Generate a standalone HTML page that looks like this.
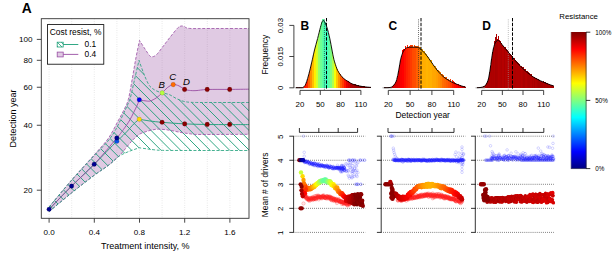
<!DOCTYPE html>
<html><head><meta charset="utf-8"><title>Figure</title>
<style>
html,body{margin:0;padding:0;background:#fff;}
body{width:612px;height:255px;overflow:hidden;font-family:"Liberation Sans",sans-serif;}
svg{display:block;}
svg text{font-family:"Liberation Sans",sans-serif;}
.bl circle{r:1.25px;fill:none;stroke:#2020ff;stroke-width:.45px;stroke-opacity:.6}
.bl2 circle{r:1.3px;fill:none;stroke:#2020ff;stroke-width:.45px;stroke-opacity:.4}
.rl circle{r:1.7px;fill:#ff3030;fill-opacity:.12;stroke:#ff2020;stroke-width:.5px;stroke-opacity:.45}
</style></head><body>
<svg width="612" height="255" viewBox="0 0 612 255">
<rect x="0" y="0" width="612" height="255" fill="#fff"/>
<clipPath id="clipA"><rect x="41.3" y="18.7" width="207.7" height="199.60000000000002"/></clipPath>
<line x1="49.10" y1="18.7" x2="49.10" y2="218.3" stroke="#d3d3d3" stroke-width="0.7" stroke-dasharray="0.7,1.6"/>
<line x1="71.70" y1="18.7" x2="71.70" y2="218.3" stroke="#d3d3d3" stroke-width="0.7" stroke-dasharray="0.7,1.6"/>
<line x1="94.30" y1="18.7" x2="94.30" y2="218.3" stroke="#d3d3d3" stroke-width="0.7" stroke-dasharray="0.7,1.6"/>
<line x1="116.90" y1="18.7" x2="116.90" y2="218.3" stroke="#d3d3d3" stroke-width="0.7" stroke-dasharray="0.7,1.6"/>
<line x1="139.50" y1="18.7" x2="139.50" y2="218.3" stroke="#d3d3d3" stroke-width="0.7" stroke-dasharray="0.7,1.6"/>
<line x1="162.10" y1="18.7" x2="162.10" y2="218.3" stroke="#d3d3d3" stroke-width="0.7" stroke-dasharray="0.7,1.6"/>
<line x1="184.70" y1="18.7" x2="184.70" y2="218.3" stroke="#d3d3d3" stroke-width="0.7" stroke-dasharray="0.7,1.6"/>
<line x1="207.30" y1="18.7" x2="207.30" y2="218.3" stroke="#d3d3d3" stroke-width="0.7" stroke-dasharray="0.7,1.6"/>
<line x1="229.90" y1="18.7" x2="229.90" y2="218.3" stroke="#d3d3d3" stroke-width="0.7" stroke-dasharray="0.7,1.6"/>
<g clip-path="url(#clipA)">
<path d="M49.10,207.00 C52.85,202.50 64.08,188.68 71.60,180.00 C79.12,171.32 88.28,161.57 94.20,154.90 C100.12,148.23 103.92,144.15 107.10,140.00 C110.28,135.85 111.57,133.00 113.30,130.00 C115.03,127.00 116.05,124.72 117.50,122.00 C118.95,119.28 120.62,116.37 122.00,113.70 C123.38,111.03 124.68,108.62 125.80,106.00 C126.92,103.38 127.60,102.67 128.70,98.00 C129.80,93.33 131.20,84.67 132.40,78.00 C133.60,71.33 134.72,64.27 135.90,58.00 C137.08,51.73 138.90,43.33 139.50,40.40 C140.42,41.83 143.33,46.48 145.00,49.00 C146.67,51.52 148.33,54.20 149.50,55.50 C150.67,56.80 150.87,56.90 152.00,56.80 C153.13,56.70 154.53,56.53 156.30,54.90 C158.07,53.27 160.25,50.02 162.60,47.00 C164.95,43.98 167.92,39.93 170.40,36.80 C172.88,33.67 175.80,29.97 177.50,28.20 C179.20,26.43 179.55,26.53 180.60,26.20 C181.65,25.87 182.37,25.83 183.80,26.20 C185.23,26.57 184.83,28.02 189.20,28.40 C193.57,28.78 200.03,28.48 210.00,28.50 C219.97,28.52 242.50,28.50 249.00,28.50 L249.00,134.30 C240.83,134.33 209.83,134.58 200.00,134.50 C190.17,134.42 193.33,134.17 190.00,133.80 C186.67,133.43 183.33,132.88 180.00,132.30 C176.67,131.72 173.33,130.82 170.00,130.30 C166.67,129.78 162.67,129.32 160.00,129.20 C157.33,129.08 156.15,129.25 154.00,129.60 C151.85,129.95 149.57,130.50 147.10,131.30 C144.63,132.10 141.82,132.70 139.20,134.40 C136.58,136.10 134.60,138.07 131.40,141.50 C128.20,144.93 123.78,151.07 120.00,155.00 C116.22,158.93 113.00,161.72 108.70,165.10 C104.40,168.48 100.38,170.67 94.20,175.30 C88.02,179.93 79.12,186.85 71.60,192.90 C64.08,198.95 52.85,208.48 49.10,211.60 Z" fill="#984ea3" fill-opacity="0.3" stroke="none"/>
<clipPath id="clipG"><path d="M49.10,207.00 C52.85,202.55 64.08,188.87 71.60,180.30 C79.12,171.73 88.13,162.15 94.20,155.60 C100.27,149.05 104.42,145.33 108.00,141.00 C111.58,136.67 113.12,134.15 115.70,129.60 C118.28,125.05 121.53,117.80 123.50,113.70 C125.47,109.60 126.37,107.62 127.50,105.00 C128.63,102.38 129.12,102.27 130.30,98.00 C131.48,93.73 133.15,85.67 134.60,79.40 C136.05,73.13 138.27,63.57 139.00,60.40 C139.80,62.62 142.22,69.73 143.80,73.70 C145.38,77.67 147.13,81.78 148.50,84.20 C149.87,86.62 150.70,87.10 152.00,88.20 C153.30,89.30 154.63,90.00 156.30,90.80 C157.97,91.60 160.38,92.52 162.00,93.00 C163.62,93.48 164.67,93.38 166.00,93.70 C167.33,94.02 168.35,94.13 170.00,94.90 C171.65,95.67 173.93,97.32 175.90,98.30 C177.87,99.28 180.20,100.23 181.80,100.80 C183.40,101.37 184.20,101.46 185.50,101.70 C186.80,101.94 187.18,102.12 189.60,102.25 C192.02,102.38 190.10,102.46 200.00,102.50 C209.90,102.54 240.83,102.50 249.00,102.50 L249.00,150.50 C240.83,150.50 214.00,150.52 200.00,150.50 C186.00,150.48 172.50,150.50 165.00,150.40 C157.50,150.30 157.98,150.15 155.00,149.90 C152.02,149.65 149.73,149.25 147.10,148.90 C144.47,148.55 140.52,147.98 139.20,147.80 C137.38,148.45 131.70,150.27 128.30,151.70 C124.90,153.13 122.07,154.17 118.80,156.40 C115.53,158.63 112.80,161.95 108.70,165.10 C104.60,168.25 100.38,170.67 94.20,175.30 C88.02,179.93 79.12,186.85 71.60,192.90 C64.08,198.95 52.85,208.48 49.10,211.60 Z"/></clipPath>
<g clip-path="url(#clipG)">
<line x1="313.70" y1="18.7" x2="513.30" y2="218.3" stroke="#1b9e77" stroke-width="0.9"/>
<line x1="303.90" y1="18.7" x2="503.50" y2="218.3" stroke="#1b9e77" stroke-width="0.9"/>
<line x1="294.10" y1="18.7" x2="493.70" y2="218.3" stroke="#1b9e77" stroke-width="0.9"/>
<line x1="284.30" y1="18.7" x2="483.90" y2="218.3" stroke="#1b9e77" stroke-width="0.9"/>
<line x1="274.50" y1="18.7" x2="474.10" y2="218.3" stroke="#1b9e77" stroke-width="0.9"/>
<line x1="264.70" y1="18.7" x2="464.30" y2="218.3" stroke="#1b9e77" stroke-width="0.9"/>
<line x1="254.90" y1="18.7" x2="454.50" y2="218.3" stroke="#1b9e77" stroke-width="0.9"/>
<line x1="245.10" y1="18.7" x2="444.70" y2="218.3" stroke="#1b9e77" stroke-width="0.9"/>
<line x1="235.30" y1="18.7" x2="434.90" y2="218.3" stroke="#1b9e77" stroke-width="0.9"/>
<line x1="225.50" y1="18.7" x2="425.10" y2="218.3" stroke="#1b9e77" stroke-width="0.9"/>
<line x1="215.70" y1="18.7" x2="415.30" y2="218.3" stroke="#1b9e77" stroke-width="0.9"/>
<line x1="205.90" y1="18.7" x2="405.50" y2="218.3" stroke="#1b9e77" stroke-width="0.9"/>
<line x1="196.10" y1="18.7" x2="395.70" y2="218.3" stroke="#1b9e77" stroke-width="0.9"/>
<line x1="186.30" y1="18.7" x2="385.90" y2="218.3" stroke="#1b9e77" stroke-width="0.9"/>
<line x1="176.50" y1="18.7" x2="376.10" y2="218.3" stroke="#1b9e77" stroke-width="0.9"/>
<line x1="166.70" y1="18.7" x2="366.30" y2="218.3" stroke="#1b9e77" stroke-width="0.9"/>
<line x1="156.90" y1="18.7" x2="356.50" y2="218.3" stroke="#1b9e77" stroke-width="0.9"/>
<line x1="147.10" y1="18.7" x2="346.70" y2="218.3" stroke="#1b9e77" stroke-width="0.9"/>
<line x1="137.30" y1="18.7" x2="336.90" y2="218.3" stroke="#1b9e77" stroke-width="0.9"/>
<line x1="127.50" y1="18.7" x2="327.10" y2="218.3" stroke="#1b9e77" stroke-width="0.9"/>
<line x1="117.70" y1="18.7" x2="317.30" y2="218.3" stroke="#1b9e77" stroke-width="0.9"/>
<line x1="107.90" y1="18.7" x2="307.50" y2="218.3" stroke="#1b9e77" stroke-width="0.9"/>
<line x1="98.10" y1="18.7" x2="297.70" y2="218.3" stroke="#1b9e77" stroke-width="0.9"/>
<line x1="88.30" y1="18.7" x2="287.90" y2="218.3" stroke="#1b9e77" stroke-width="0.9"/>
<line x1="78.50" y1="18.7" x2="278.10" y2="218.3" stroke="#1b9e77" stroke-width="0.9"/>
<line x1="68.70" y1="18.7" x2="268.30" y2="218.3" stroke="#1b9e77" stroke-width="0.9"/>
<line x1="58.90" y1="18.7" x2="258.50" y2="218.3" stroke="#1b9e77" stroke-width="0.9"/>
<line x1="49.10" y1="18.7" x2="248.70" y2="218.3" stroke="#1b9e77" stroke-width="0.9"/>
<line x1="39.30" y1="18.7" x2="238.90" y2="218.3" stroke="#1b9e77" stroke-width="0.9"/>
<line x1="29.50" y1="18.7" x2="229.10" y2="218.3" stroke="#1b9e77" stroke-width="0.9"/>
<line x1="19.70" y1="18.7" x2="219.30" y2="218.3" stroke="#1b9e77" stroke-width="0.9"/>
<line x1="9.90" y1="18.7" x2="209.50" y2="218.3" stroke="#1b9e77" stroke-width="0.9"/>
<line x1="0.10" y1="18.7" x2="199.70" y2="218.3" stroke="#1b9e77" stroke-width="0.9"/>
<line x1="-9.70" y1="18.7" x2="189.90" y2="218.3" stroke="#1b9e77" stroke-width="0.9"/>
<line x1="-19.50" y1="18.7" x2="180.10" y2="218.3" stroke="#1b9e77" stroke-width="0.9"/>
<line x1="-29.30" y1="18.7" x2="170.30" y2="218.3" stroke="#1b9e77" stroke-width="0.9"/>
<line x1="-39.10" y1="18.7" x2="160.50" y2="218.3" stroke="#1b9e77" stroke-width="0.9"/>
<line x1="-48.90" y1="18.7" x2="150.70" y2="218.3" stroke="#1b9e77" stroke-width="0.9"/>
<line x1="-58.70" y1="18.7" x2="140.90" y2="218.3" stroke="#1b9e77" stroke-width="0.9"/>
<line x1="-68.50" y1="18.7" x2="131.10" y2="218.3" stroke="#1b9e77" stroke-width="0.9"/>
<line x1="-78.30" y1="18.7" x2="121.30" y2="218.3" stroke="#1b9e77" stroke-width="0.9"/>
<line x1="-88.10" y1="18.7" x2="111.50" y2="218.3" stroke="#1b9e77" stroke-width="0.9"/>
<line x1="-97.90" y1="18.7" x2="101.70" y2="218.3" stroke="#1b9e77" stroke-width="0.9"/>
<line x1="-107.70" y1="18.7" x2="91.90" y2="218.3" stroke="#1b9e77" stroke-width="0.9"/>
<line x1="-117.50" y1="18.7" x2="82.10" y2="218.3" stroke="#1b9e77" stroke-width="0.9"/>
<line x1="-127.30" y1="18.7" x2="72.30" y2="218.3" stroke="#1b9e77" stroke-width="0.9"/>
<line x1="-137.10" y1="18.7" x2="62.50" y2="218.3" stroke="#1b9e77" stroke-width="0.9"/>
<line x1="-146.90" y1="18.7" x2="52.70" y2="218.3" stroke="#1b9e77" stroke-width="0.9"/>
<line x1="-156.70" y1="18.7" x2="42.90" y2="218.3" stroke="#1b9e77" stroke-width="0.9"/>
<line x1="-166.50" y1="18.7" x2="33.10" y2="218.3" stroke="#1b9e77" stroke-width="0.9"/>
<line x1="-176.30" y1="18.7" x2="23.30" y2="218.3" stroke="#1b9e77" stroke-width="0.9"/>
<line x1="-186.10" y1="18.7" x2="13.50" y2="218.3" stroke="#1b9e77" stroke-width="0.9"/>
<line x1="-195.90" y1="18.7" x2="3.70" y2="218.3" stroke="#1b9e77" stroke-width="0.9"/>
<line x1="-205.70" y1="18.7" x2="-6.10" y2="218.3" stroke="#1b9e77" stroke-width="0.9"/>
<line x1="-215.50" y1="18.7" x2="-15.90" y2="218.3" stroke="#1b9e77" stroke-width="0.9"/>
<line x1="-225.30" y1="18.7" x2="-25.70" y2="218.3" stroke="#1b9e77" stroke-width="0.9"/>
<line x1="-235.10" y1="18.7" x2="-35.50" y2="218.3" stroke="#1b9e77" stroke-width="0.9"/>
<line x1="-244.90" y1="18.7" x2="-45.30" y2="218.3" stroke="#1b9e77" stroke-width="0.9"/>
<line x1="-254.70" y1="18.7" x2="-55.10" y2="218.3" stroke="#1b9e77" stroke-width="0.9"/>
<line x1="-264.50" y1="18.7" x2="-64.90" y2="218.3" stroke="#1b9e77" stroke-width="0.9"/>
</g>
<path d="M49.10,207.00 C52.85,202.50 64.08,188.68 71.60,180.00 C79.12,171.32 88.28,161.57 94.20,154.90 C100.12,148.23 103.92,144.15 107.10,140.00 C110.28,135.85 111.57,133.00 113.30,130.00 C115.03,127.00 116.05,124.72 117.50,122.00 C118.95,119.28 120.62,116.37 122.00,113.70 C123.38,111.03 124.68,108.62 125.80,106.00 C126.92,103.38 127.60,102.67 128.70,98.00 C129.80,93.33 131.20,84.67 132.40,78.00 C133.60,71.33 134.72,64.27 135.90,58.00 C137.08,51.73 138.90,43.33 139.50,40.40 C140.42,41.83 143.33,46.48 145.00,49.00 C146.67,51.52 148.33,54.20 149.50,55.50 C150.67,56.80 150.87,56.90 152.00,56.80 C153.13,56.70 154.53,56.53 156.30,54.90 C158.07,53.27 160.25,50.02 162.60,47.00 C164.95,43.98 167.92,39.93 170.40,36.80 C172.88,33.67 175.80,29.97 177.50,28.20 C179.20,26.43 179.55,26.53 180.60,26.20 C181.65,25.87 182.37,25.83 183.80,26.20 C185.23,26.57 184.83,28.02 189.20,28.40 C193.57,28.78 200.03,28.48 210.00,28.50 C219.97,28.52 242.50,28.50 249.00,28.50" fill="none" stroke="#984ea3" stroke-width="0.8" stroke-dasharray="3,1.6"/>
<path d="M49.10,211.60 C52.85,208.48 64.08,198.95 71.60,192.90 C79.12,186.85 88.02,179.93 94.20,175.30 C100.38,170.67 104.40,168.48 108.70,165.10 C113.00,161.72 116.22,158.93 120.00,155.00 C123.78,151.07 128.20,144.93 131.40,141.50 C134.60,138.07 136.58,136.10 139.20,134.40 C141.82,132.70 144.63,132.10 147.10,131.30 C149.57,130.50 151.85,129.95 154.00,129.60 C156.15,129.25 157.33,129.08 160.00,129.20 C162.67,129.32 166.67,129.78 170.00,130.30 C173.33,130.82 176.67,131.72 180.00,132.30 C183.33,132.88 186.67,133.43 190.00,133.80 C193.33,134.17 190.17,134.42 200.00,134.50 C209.83,134.58 240.83,134.33 249.00,134.30" fill="none" stroke="#984ea3" stroke-width="0.8" stroke-dasharray="3,1.6"/>
<path d="M49.10,207.00 C52.85,202.55 64.08,188.87 71.60,180.30 C79.12,171.73 88.13,162.15 94.20,155.60 C100.27,149.05 104.42,145.33 108.00,141.00 C111.58,136.67 113.12,134.15 115.70,129.60 C118.28,125.05 121.53,117.80 123.50,113.70 C125.47,109.60 126.37,107.62 127.50,105.00 C128.63,102.38 129.12,102.27 130.30,98.00 C131.48,93.73 133.15,85.67 134.60,79.40 C136.05,73.13 138.27,63.57 139.00,60.40 C139.80,62.62 142.22,69.73 143.80,73.70 C145.38,77.67 147.13,81.78 148.50,84.20 C149.87,86.62 150.70,87.10 152.00,88.20 C153.30,89.30 154.63,90.00 156.30,90.80 C157.97,91.60 160.38,92.52 162.00,93.00 C163.62,93.48 164.67,93.38 166.00,93.70 C167.33,94.02 168.35,94.13 170.00,94.90 C171.65,95.67 173.93,97.32 175.90,98.30 C177.87,99.28 180.20,100.23 181.80,100.80 C183.40,101.37 184.20,101.46 185.50,101.70 C186.80,101.94 187.18,102.12 189.60,102.25 C192.02,102.38 190.10,102.46 200.00,102.50 C209.90,102.54 240.83,102.50 249.00,102.50" fill="none" stroke="#1b9e77" stroke-width="0.8" stroke-dasharray="3,1.6"/>
<path d="M49.10,211.60 C52.85,208.48 64.08,198.95 71.60,192.90 C79.12,186.85 88.02,179.93 94.20,175.30 C100.38,170.67 104.60,168.25 108.70,165.10 C112.80,161.95 115.53,158.63 118.80,156.40 C122.07,154.17 124.90,153.13 128.30,151.70 C131.70,150.27 137.38,148.45 139.20,147.80 C140.52,147.98 144.47,148.55 147.10,148.90 C149.73,149.25 152.02,149.65 155.00,149.90 C157.98,150.15 157.50,150.30 165.00,150.40 C172.50,150.50 186.00,150.48 200.00,150.50 C214.00,150.52 240.83,150.50 249.00,150.50" fill="none" stroke="#1b9e77" stroke-width="0.8" stroke-dasharray="3,1.6"/>
<path d="M49.10,209.30 C52.85,205.43 64.08,193.60 71.60,186.10 C79.12,178.60 86.67,171.78 94.20,164.30 C101.73,156.82 112.43,145.58 116.80,141.20 C121.17,136.82 118.75,139.57 120.40,138.00 C122.05,136.43 124.47,134.15 126.70,131.80 C128.93,129.45 131.72,126.00 133.80,123.90 C135.88,121.80 138.30,119.98 139.20,119.20 C141.00,119.50 146.18,120.48 150.00,121.00 C153.82,121.52 156.32,121.82 162.10,122.30 C167.88,122.78 177.18,123.53 184.70,123.90 C192.22,124.27 199.68,124.38 207.20,124.50 C214.72,124.62 222.83,124.58 229.80,124.60 C236.77,124.62 245.80,124.60 249.00,124.60" fill="none" stroke="#1b9e77" stroke-width="0.9"/>
<path d="M49.10,209.30 C52.85,205.43 64.08,193.60 71.60,186.10 C79.12,178.60 86.67,172.32 94.20,164.30 C101.73,156.28 111.92,143.82 116.80,138.00 C121.68,132.18 121.33,132.40 123.50,129.40 C125.67,126.40 127.57,123.93 129.80,120.00 C132.03,116.07 135.33,109.15 136.90,105.80 C138.47,102.45 138.82,100.88 139.20,99.90 C140.17,100.05 143.20,100.62 145.00,100.80 C146.80,100.98 148.12,101.48 150.00,101.00 C151.88,100.52 154.27,99.25 156.30,97.90 C158.33,96.55 160.37,94.60 162.20,92.90 C164.03,91.20 165.47,89.08 167.30,87.70 C169.13,86.32 171.25,84.90 173.20,84.60 C175.15,84.30 177.12,85.12 179.00,85.90 C180.88,86.68 182.80,88.55 184.50,89.30 C186.20,90.05 187.28,90.18 189.20,90.40 C191.12,90.62 193.00,90.75 196.00,90.60 C199.00,90.45 201.58,89.70 207.20,89.50 C212.82,89.30 222.73,89.45 229.70,89.40 C236.67,89.35 245.78,89.23 249.00,89.20" fill="none" stroke="#984ea3" stroke-width="0.9"/>
</g>
<circle cx="116.8" cy="141.3" r="2.3" fill="#0a50e8" stroke="#000" stroke-opacity="0.25" stroke-width="0.5"/>
<circle cx="49.1" cy="209.3" r="2.3" fill="#00008f" stroke="#000" stroke-opacity="0.25" stroke-width="0.5"/>
<circle cx="71.6" cy="186.1" r="2.3" fill="#00008f" stroke="#000" stroke-opacity="0.25" stroke-width="0.5"/>
<circle cx="94.2" cy="164.3" r="2.3" fill="#00008f" stroke="#000" stroke-opacity="0.25" stroke-width="0.5"/>
<circle cx="116.8" cy="138.0" r="2.3" fill="#00008f" stroke="#000" stroke-opacity="0.25" stroke-width="0.5"/>
<circle cx="139.3" cy="119.3" r="2.3" fill="#ffd800" stroke="#000" stroke-opacity="0.25" stroke-width="0.5"/>
<circle cx="162.1" cy="122.3" r="2.3" fill="#8b0000" stroke="#000" stroke-opacity="0.25" stroke-width="0.5"/>
<circle cx="184.7" cy="123.9" r="2.3" fill="#8b0000" stroke="#000" stroke-opacity="0.25" stroke-width="0.5"/>
<circle cx="207.2" cy="124.4" r="2.3" fill="#8b0000" stroke="#000" stroke-opacity="0.25" stroke-width="0.5"/>
<circle cx="229.7" cy="124.4" r="2.3" fill="#8b0000" stroke="#000" stroke-opacity="0.25" stroke-width="0.5"/>
<circle cx="139.3" cy="99.8" r="2.3" fill="#0000ee" stroke="#000" stroke-opacity="0.25" stroke-width="0.5"/>
<circle cx="162.2" cy="92.9" r="2.3" fill="#b8ff40" stroke="#000" stroke-opacity="0.25" stroke-width="0.5"/>
<circle cx="173.2" cy="84.6" r="2.3" fill="#ff6a00" stroke="#000" stroke-opacity="0.25" stroke-width="0.5"/>
<circle cx="184.6" cy="89.4" r="2.3" fill="#8b0000" stroke="#000" stroke-opacity="0.25" stroke-width="0.5"/>
<circle cx="207.2" cy="89.4" r="2.3" fill="#8b0000" stroke="#000" stroke-opacity="0.25" stroke-width="0.5"/>
<circle cx="229.7" cy="89.4" r="2.3" fill="#8b0000" stroke="#000" stroke-opacity="0.25" stroke-width="0.5"/>
<text x="161.8" y="87.7" font-size="9.6" text-anchor="middle" font-weight="normal" font-style="italic" fill="#000">B</text>
<text x="172.8" y="79.5" font-size="9.6" text-anchor="middle" font-weight="normal" font-style="italic" fill="#000">C</text>
<text x="186.4" y="84.6" font-size="9.6" text-anchor="middle" font-weight="normal" font-style="italic" fill="#000">D</text>
<rect x="41.3" y="18.7" width="207.7" height="199.60000000000002" fill="none" stroke="#333" stroke-width="0.9"/>
<line x1="49.10" y1="218.3" x2="49.10" y2="222.70000000000002" stroke="#333" stroke-width="0.9"/>
<text x="49.1" y="234.5" font-size="8.1" text-anchor="middle" font-weight="normal" font-style="normal" fill="#000">0.0</text>
<line x1="94.30" y1="218.3" x2="94.30" y2="222.70000000000002" stroke="#333" stroke-width="0.9"/>
<text x="94.3" y="234.5" font-size="8.1" text-anchor="middle" font-weight="normal" font-style="normal" fill="#000">0.4</text>
<line x1="139.50" y1="218.3" x2="139.50" y2="222.70000000000002" stroke="#333" stroke-width="0.9"/>
<text x="139.5" y="234.5" font-size="8.1" text-anchor="middle" font-weight="normal" font-style="normal" fill="#000">0.8</text>
<line x1="184.70" y1="218.3" x2="184.70" y2="222.70000000000002" stroke="#333" stroke-width="0.9"/>
<text x="184.7" y="234.5" font-size="8.1" text-anchor="middle" font-weight="normal" font-style="normal" fill="#000">1.2</text>
<line x1="229.90" y1="218.3" x2="229.90" y2="222.70000000000002" stroke="#333" stroke-width="0.9"/>
<text x="229.9" y="234.5" font-size="8.1" text-anchor="middle" font-weight="normal" font-style="normal" fill="#000">1.6</text>
<line x1="41.3" y1="39.40" x2="36.8" y2="39.40" stroke="#333" stroke-width="0.9"/>
<text x="32.4" y="42.3" font-size="8.1" text-anchor="end" font-weight="normal" font-style="normal" fill="#000">100</text>
<line x1="41.3" y1="60.31" x2="36.8" y2="60.31" stroke="#333" stroke-width="0.9"/>
<text x="32.4" y="63.21" font-size="8.1" text-anchor="end" font-weight="normal" font-style="normal" fill="#000">80</text>
<line x1="41.3" y1="87.26" x2="36.8" y2="87.26" stroke="#333" stroke-width="0.9"/>
<text x="32.4" y="90.16" font-size="8.1" text-anchor="end" font-weight="normal" font-style="normal" fill="#000">60</text>
<line x1="41.3" y1="125.26" x2="36.8" y2="125.26" stroke="#333" stroke-width="0.9"/>
<text x="32.4" y="128.16" font-size="8.1" text-anchor="end" font-weight="normal" font-style="normal" fill="#000">40</text>
<line x1="41.3" y1="190.20" x2="36.8" y2="190.20" stroke="#333" stroke-width="0.9"/>
<text x="32.4" y="193.1" font-size="8.1" text-anchor="end" font-weight="normal" font-style="normal" fill="#000">20</text>
<text x="145.3" y="248.7" font-size="9" text-anchor="middle" font-weight="normal" font-style="normal" fill="#000">Treatment intensity, %</text>
<text x="15.5" y="118.5" font-size="9" text-anchor="middle" font-weight="normal" font-style="normal" fill="#000" transform="rotate(-90 15.5 118.5)">Detection year</text>
<text x="26.7" y="13.2" font-size="13.8" text-anchor="middle" font-weight="bold" font-style="normal" fill="#000">A</text>
<rect x="47.5" y="24.6" width="56.3" height="39.6" fill="#fff" stroke="#000" stroke-width="0.8"/>
<text x="75.6" y="34.8" font-size="8.4" text-anchor="middle" font-weight="normal" font-style="normal" fill="#000">Cost resist, %</text>
<clipPath id="lg1"><rect x="57.2" y="42.2" width="6" height="4.8"/></clipPath>
<g clip-path="url(#lg1)"><path d="M55,40 L65,50 M51,40 L61,50 M59,40 L69,50" stroke="#1b9e77" stroke-width="0.8"/></g>
<rect x="57.2" y="42.2" width="6" height="4.8" fill="none" stroke="#1b9e77" stroke-width="0.8"/>
<line x1="63.2" y1="44.5" x2="78.3" y2="44.5" stroke="#1b9e77" stroke-width="0.9"/>
<text x="96.2" y="47.4" font-size="8.4" text-anchor="end" font-weight="normal" font-style="normal" fill="#000">0.1</text>
<rect x="57.2" y="52.1" width="6" height="4.8" fill="#984ea3" fill-opacity="0.3" stroke="#984ea3" stroke-width="0.8"/>
<line x1="63.2" y1="54.4" x2="78.3" y2="54.4" stroke="#984ea3" stroke-width="0.9"/>
<text x="96.2" y="57.4" font-size="8.4" text-anchor="end" font-weight="normal" font-style="normal" fill="#000">0.4</text>
<g shape-rendering="crispEdges">
<rect x="296" y="87.4" width="1" height="0.3" fill="#cf0000"/>
<rect x="297" y="87.4" width="1" height="0.3" fill="#cf0000"/>
<rect x="298" y="87.4" width="1" height="0.3" fill="#d50000"/>
<rect x="299" y="87.4" width="1" height="0.3" fill="#d50000"/>
<rect x="300" y="87.4" width="1" height="0.3" fill="#e20000"/>
<rect x="301" y="87.4" width="1" height="0.3" fill="#e20000"/>
<rect x="302" y="87.2" width="1" height="0.5" fill="#f30000"/>
<rect x="303" y="86.6" width="1" height="1.1" fill="#f30000"/>
<rect x="304" y="85.6" width="1" height="2.1" fill="#ff1300"/>
<rect x="305" y="84.4" width="1" height="3.3" fill="#ff1300"/>
<rect x="306" y="81.6" width="1" height="6.1" fill="#ff2600"/>
<rect x="307" y="78.6" width="1" height="9.1" fill="#ff2600"/>
<rect x="308" y="75.0" width="1" height="12.7" fill="#ff6000"/>
<rect x="309" y="71.2" width="1" height="16.5" fill="#ff6000"/>
<rect x="310" y="67.1" width="1" height="20.6" fill="#ff8e00"/>
<rect x="311" y="62.9" width="1" height="24.8" fill="#ff8e00"/>
<rect x="312" y="58.8" width="1" height="28.9" fill="#ffbe00"/>
<rect x="313" y="54.0" width="1" height="33.7" fill="#ffbe00"/>
<rect x="314" y="49.7" width="1" height="38.0" fill="#ffef00"/>
<rect x="315" y="45.9" width="1" height="41.8" fill="#ffef00"/>
<rect x="316" y="42.5" width="1" height="45.2" fill="#d4ff2b"/>
<rect x="317" y="38.5" width="1" height="49.2" fill="#d4ff2b"/>
<rect x="318" y="34.7" width="1" height="53.0" fill="#95ff6a"/>
<rect x="319" y="30.2" width="1" height="57.5" fill="#95ff6a"/>
<rect x="320" y="26.3" width="1" height="61.4" fill="#6eff91"/>
<rect x="321" y="21.9" width="1" height="65.8" fill="#6eff91"/>
<rect x="322" y="19.4" width="1" height="68.3" fill="#59ffa6"/>
<rect x="323" y="19.4" width="1" height="68.3" fill="#59ffa6"/>
<rect x="324" y="19.8" width="1" height="67.9" fill="#42ffbd"/>
<rect x="325" y="22.3" width="1" height="65.4" fill="#42ffbd"/>
<rect x="326" y="25.2" width="1" height="62.5" fill="#3dffc2"/>
<rect x="327" y="29.2" width="1" height="58.5" fill="#3dffc2"/>
<rect x="328" y="33.2" width="1" height="54.5" fill="#5cffa3"/>
<rect x="329" y="37.0" width="1" height="50.7" fill="#5cffa3"/>
<rect x="330" y="41.8" width="1" height="45.9" fill="#7dff82"/>
<rect x="331" y="47.1" width="1" height="40.6" fill="#7dff82"/>
<rect x="332" y="52.2" width="1" height="35.5" fill="#afff50"/>
<rect x="333" y="57.1" width="1" height="30.6" fill="#afff50"/>
<rect x="334" y="61.0" width="1" height="26.7" fill="#f9ff06"/>
<rect x="335" y="64.0" width="1" height="23.7" fill="#f9ff06"/>
<rect x="336" y="67.1" width="1" height="20.6" fill="#ffc700"/>
<rect x="337" y="69.4" width="1" height="18.3" fill="#ffc700"/>
<rect x="338" y="71.4" width="1" height="16.3" fill="#ff9700"/>
<rect x="339" y="73.0" width="1" height="14.7" fill="#ff9700"/>
<rect x="340" y="74.3" width="1" height="13.4" fill="#ff5e00"/>
<rect x="341" y="75.8" width="1" height="11.9" fill="#ff5e00"/>
<rect x="342" y="76.9" width="1" height="10.8" fill="#ff3c00"/>
<rect x="343" y="77.7" width="1" height="10.0" fill="#ff3c00"/>
<rect x="344" y="78.7" width="1" height="9.0" fill="#ff1300"/>
<rect x="345" y="79.7" width="1" height="8.0" fill="#ff1300"/>
<rect x="346" y="80.0" width="1" height="7.7" fill="#e60000"/>
<rect x="347" y="81.0" width="1" height="6.7" fill="#e60000"/>
<rect x="348" y="81.3" width="1" height="6.4" fill="#d00000"/>
<rect x="349" y="82.1" width="1" height="5.6" fill="#d00000"/>
<rect x="350" y="82.6" width="1" height="5.1" fill="#af0000"/>
<rect x="351" y="82.9" width="1" height="4.8" fill="#af0000"/>
<rect x="352" y="83.8" width="1" height="3.9" fill="#a80000"/>
<rect x="353" y="84.3" width="1" height="3.4" fill="#a80000"/>
<rect x="354" y="84.2" width="1" height="3.5" fill="#a20000"/>
<rect x="355" y="84.4" width="1" height="3.3" fill="#a20000"/>
<rect x="356" y="84.6" width="1" height="3.1" fill="#970000"/>
<rect x="357" y="84.8" width="1" height="2.9" fill="#970000"/>
<rect x="358" y="85.4" width="1" height="2.3" fill="#940000"/>
<rect x="359" y="85.5" width="1" height="2.2" fill="#940000"/>
<rect x="360" y="85.8" width="1" height="1.9" fill="#8b0000"/>
<rect x="361" y="86.0" width="1" height="1.7" fill="#8b0000"/>
<rect x="362" y="86.2" width="1" height="1.5" fill="#8f0000"/>
<rect x="363" y="86.3" width="1" height="1.4" fill="#8f0000"/>
<rect x="364" y="86.4" width="1" height="1.3" fill="#8a0000"/>
<rect x="365" y="86.5" width="1" height="1.2" fill="#8a0000"/>
<rect x="366" y="86.6" width="1" height="1.1" fill="#850000"/>
<rect x="367" y="86.7" width="1" height="1.0" fill="#850000"/>
<rect x="368" y="86.8" width="1" height="0.9" fill="#800000"/>
<rect x="369" y="86.9" width="1" height="0.8" fill="#800000"/>
<rect x="370" y="87.0" width="1" height="0.7" fill="#830000"/>
</g>
<line x1="294.5" y1="87.8" x2="304" y2="87.8" stroke="#888" stroke-width="0.8"/>
<path d="M296.00,87.70 C296.92,87.70 300.38,87.73 301.50,87.70 C302.62,87.67 302.28,87.68 302.70,87.50 C303.12,87.32 303.53,87.10 304.00,86.60 C304.47,86.10 304.88,85.90 305.50,84.50 C306.12,83.10 306.92,80.82 307.70,78.20 C308.48,75.58 309.42,71.93 310.20,68.80 C310.98,65.67 311.68,62.53 312.40,59.40 C313.12,56.27 313.63,53.48 314.50,50.00 C315.37,46.52 316.62,42.25 317.60,38.50 C318.58,34.75 319.67,30.22 320.40,27.50 C321.13,24.78 321.53,23.37 322.00,22.20 C322.47,21.03 322.78,20.55 323.20,20.50 C323.62,20.45 323.87,20.73 324.50,21.90 C325.13,23.07 326.12,24.73 327.00,27.50 C327.88,30.27 328.97,34.75 329.80,38.50 C330.63,42.25 331.32,46.52 332.00,50.00 C332.68,53.48 333.08,56.27 333.90,59.40 C334.72,62.53 336.00,66.50 336.90,68.80 C337.80,71.10 338.47,71.88 339.30,73.20 C340.13,74.52 340.95,75.65 341.90,76.70 C342.85,77.75 343.98,78.72 345.00,79.50 C346.02,80.28 346.63,80.60 348.00,81.40 C349.37,82.20 350.82,83.45 353.20,84.30 C355.58,85.15 359.33,85.98 362.30,86.50 C365.27,87.02 369.55,87.25 371.00,87.40" fill="none" stroke="#000" stroke-width="0.9"/>
<g shape-rendering="crispEdges">
<rect x="384" y="87.4" width="1" height="0.3" fill="#ba0000"/>
<rect x="385" y="87.4" width="1" height="0.3" fill="#ba0000"/>
<rect x="386" y="87.4" width="1" height="0.3" fill="#b50000"/>
<rect x="387" y="87.3" width="1" height="0.4" fill="#b50000"/>
<rect x="388" y="87.3" width="1" height="0.4" fill="#c10000"/>
<rect x="389" y="87.2" width="1" height="0.5" fill="#c10000"/>
<rect x="390" y="86.9" width="1" height="0.8" fill="#be0000"/>
<rect x="391" y="86.7" width="1" height="1.0" fill="#be0000"/>
<rect x="392" y="86.0" width="1" height="1.8" fill="#c70000"/>
<rect x="393" y="85.2" width="1" height="2.5" fill="#c70000"/>
<rect x="394" y="83.8" width="1" height="3.9" fill="#d60000"/>
<rect x="395" y="82.0" width="1" height="5.7" fill="#d60000"/>
<rect x="396" y="79.5" width="1" height="8.2" fill="#e00000"/>
<rect x="397" y="75.5" width="1" height="12.2" fill="#e00000"/>
<rect x="398" y="70.6" width="1" height="17.1" fill="#ea0000"/>
<rect x="399" y="65.4" width="1" height="22.3" fill="#ea0000"/>
<rect x="400" y="59.5" width="1" height="28.2" fill="#f80000"/>
<rect x="401" y="56.1" width="1" height="31.6" fill="#f80000"/>
<rect x="402" y="50.3" width="1" height="37.4" fill="#ff0000"/>
<rect x="403" y="49.2" width="1" height="38.5" fill="#ff0000"/>
<rect x="404" y="49.3" width="1" height="38.4" fill="#ff1000"/>
<rect x="405" y="46.4" width="1" height="41.3" fill="#ff1000"/>
<rect x="406" y="47.5" width="1" height="40.2" fill="#ff2000"/>
<rect x="407" y="45.3" width="1" height="42.4" fill="#ff2000"/>
<rect x="408" y="46.8" width="1" height="40.9" fill="#ff2b00"/>
<rect x="409" y="45.6" width="1" height="42.1" fill="#ff2b00"/>
<rect x="410" y="45.0" width="1" height="42.7" fill="#ff3a00"/>
<rect x="411" y="44.8" width="1" height="42.9" fill="#ff3a00"/>
<rect x="412" y="44.7" width="1" height="43.0" fill="#ff4a00"/>
<rect x="413" y="46.6" width="1" height="41.1" fill="#ff4a00"/>
<rect x="414" y="45.0" width="1" height="42.7" fill="#ff4d00"/>
<rect x="415" y="46.2" width="1" height="41.5" fill="#ff4d00"/>
<rect x="416" y="45.6" width="1" height="42.1" fill="#ff5f00"/>
<rect x="417" y="46.0" width="1" height="41.7" fill="#ff5f00"/>
<rect x="418" y="46.4" width="1" height="41.3" fill="#ff6f00"/>
<rect x="419" y="47.0" width="1" height="40.7" fill="#ff6f00"/>
<rect x="420" y="47.1" width="1" height="40.6" fill="#ffa600"/>
<rect x="421" y="48.9" width="1" height="38.8" fill="#ffa600"/>
<rect x="422" y="49.1" width="1" height="38.6" fill="#ffad00"/>
<rect x="423" y="50.5" width="1" height="37.2" fill="#ffad00"/>
<rect x="424" y="51.1" width="1" height="36.6" fill="#ffae00"/>
<rect x="425" y="53.3" width="1" height="34.4" fill="#ffae00"/>
<rect x="426" y="53.5" width="1" height="34.2" fill="#ffb400"/>
<rect x="427" y="56.0" width="1" height="31.7" fill="#ffb400"/>
<rect x="428" y="56.8" width="1" height="30.9" fill="#ffaf00"/>
<rect x="429" y="58.9" width="1" height="28.8" fill="#ffaf00"/>
<rect x="430" y="59.9" width="1" height="27.8" fill="#ffb000"/>
<rect x="431" y="60.4" width="1" height="27.3" fill="#ffb000"/>
<rect x="432" y="62.6" width="1" height="25.1" fill="#ffa700"/>
<rect x="433" y="64.5" width="1" height="23.2" fill="#ffa700"/>
<rect x="434" y="65.6" width="1" height="22.1" fill="#ffa600"/>
<rect x="435" y="65.9" width="1" height="21.8" fill="#ffa600"/>
<rect x="436" y="68.1" width="1" height="19.6" fill="#ff9e00"/>
<rect x="437" y="70.0" width="1" height="17.7" fill="#ff9e00"/>
<rect x="438" y="70.3" width="1" height="17.4" fill="#ff9100"/>
<rect x="439" y="70.9" width="1" height="16.8" fill="#ff9100"/>
<rect x="440" y="71.9" width="1" height="15.8" fill="#ff8300"/>
<rect x="441" y="74.1" width="1" height="13.6" fill="#ff8300"/>
<rect x="442" y="73.9" width="1" height="13.8" fill="#ff6e00"/>
<rect x="443" y="74.8" width="1" height="12.9" fill="#ff6e00"/>
<rect x="444" y="76.5" width="1" height="11.2" fill="#ff6500"/>
<rect x="445" y="77.4" width="1" height="10.3" fill="#ff6500"/>
<rect x="446" y="77.1" width="1" height="10.6" fill="#ff5a00"/>
<rect x="447" y="78.6" width="1" height="9.1" fill="#ff5a00"/>
<rect x="448" y="79.1" width="1" height="8.6" fill="#ff4d00"/>
<rect x="449" y="79.7" width="1" height="8.0" fill="#ff4d00"/>
<rect x="450" y="79.2" width="1" height="8.5" fill="#ff3c00"/>
<rect x="451" y="81.5" width="1" height="6.2" fill="#ff3c00"/>
<rect x="452" y="80.2" width="1" height="7.5" fill="#ff1f00"/>
<rect x="453" y="80.6" width="1" height="7.1" fill="#ff1f00"/>
<rect x="454" y="82.1" width="1" height="5.6" fill="#ff0e00"/>
<rect x="455" y="83.0" width="1" height="4.7" fill="#ff0e00"/>
<rect x="456" y="83.8" width="1" height="3.9" fill="#ff0100"/>
<rect x="457" y="83.9" width="1" height="3.8" fill="#ff0100"/>
<rect x="458" y="84.3" width="1" height="3.4" fill="#ef0000"/>
<rect x="459" y="84.9" width="1" height="2.8" fill="#ef0000"/>
<rect x="460" y="85.3" width="1" height="2.4" fill="#df0000"/>
<rect x="461" y="85.6" width="1" height="2.1" fill="#df0000"/>
<rect x="462" y="85.9" width="1" height="1.8" fill="#ca0000"/>
<rect x="463" y="86.2" width="1" height="1.5" fill="#ca0000"/>
<rect x="464" y="86.4" width="1" height="1.3" fill="#ad0000"/>
<rect x="465" y="86.7" width="1" height="1.0" fill="#ad0000"/>
</g>
<line x1="382.5" y1="87.8" x2="392" y2="87.8" stroke="#888" stroke-width="0.8"/>
<path d="M384.00,87.70 C384.83,87.68 387.75,87.72 389.00,87.60 C390.25,87.48 390.75,87.35 391.50,87.00 C392.25,86.65 392.92,86.08 393.50,85.50 C394.08,84.92 394.53,84.28 395.00,83.50 C395.47,82.72 395.80,82.38 396.30,80.80 C396.80,79.22 397.50,76.30 398.00,74.00 C398.50,71.70 398.90,69.27 399.30,67.00 C399.70,64.73 399.95,62.48 400.40,60.40 C400.85,58.32 401.48,56.03 402.00,54.50 C402.52,52.97 402.92,52.20 403.50,51.20 C404.08,50.20 404.83,49.12 405.50,48.50 C406.17,47.88 406.42,47.72 407.50,47.50 C408.58,47.28 410.28,47.22 412.00,47.20 C413.72,47.18 416.30,47.02 417.80,47.40 C419.30,47.78 419.82,48.52 421.00,49.50 C422.18,50.48 423.57,51.77 424.90,53.30 C426.23,54.83 427.65,56.83 429.00,58.70 C430.35,60.57 431.67,62.62 433.00,64.50 C434.33,66.38 435.63,68.30 437.00,70.00 C438.37,71.70 439.87,73.37 441.20,74.70 C442.53,76.03 443.63,76.98 445.00,78.00 C446.37,79.02 447.98,79.98 449.40,80.80 C450.82,81.62 452.13,82.28 453.50,82.90 C454.87,83.52 456.35,84.02 457.60,84.50 C458.85,84.98 459.68,85.38 461.00,85.80 C462.32,86.22 464.75,86.80 465.50,87.00" fill="none" stroke="#000" stroke-width="0.9"/>
<g shape-rendering="crispEdges">
<rect x="477" y="87.4" width="1" height="0.3" fill="#ab0000"/>
<rect x="478" y="87.3" width="1" height="0.4" fill="#a50000"/>
<rect x="479" y="87.2" width="1" height="0.5" fill="#ae0000"/>
<rect x="480" y="87.1" width="1" height="0.6" fill="#a40000"/>
<rect x="481" y="86.9" width="1" height="0.8" fill="#a70000"/>
<rect x="482" y="86.6" width="1" height="1.1" fill="#a40000"/>
<rect x="483" y="86.3" width="1" height="1.4" fill="#a50000"/>
<rect x="484" y="85.6" width="1" height="2.1" fill="#a50000"/>
<rect x="485" y="84.7" width="1" height="3.0" fill="#b00000"/>
<rect x="486" y="83.0" width="1" height="4.7" fill="#af0000"/>
<rect x="487" y="81.3" width="1" height="6.4" fill="#a90000"/>
<rect x="488" y="77.6" width="1" height="10.1" fill="#ac0000"/>
<rect x="489" y="72.3" width="1" height="15.4" fill="#aa0000"/>
<rect x="490" y="66.3" width="1" height="21.4" fill="#af0000"/>
<rect x="491" y="58.7" width="1" height="29.0" fill="#ac0000"/>
<rect x="492" y="52.4" width="1" height="35.3" fill="#ae0000"/>
<rect x="493" y="47.8" width="1" height="39.9" fill="#ac0000"/>
<rect x="494" y="41.2" width="1" height="46.5" fill="#b10000"/>
<rect x="495" y="37.0" width="1" height="50.7" fill="#a80000"/>
<rect x="496" y="33.9" width="1" height="53.8" fill="#aa0000"/>
<rect x="497" y="39.2" width="1" height="48.5" fill="#ac0000"/>
<rect x="498" y="35.6" width="1" height="52.1" fill="#b40000"/>
<rect x="499" y="40.0" width="1" height="47.7" fill="#b10000"/>
<rect x="500" y="41.0" width="1" height="46.7" fill="#b00000"/>
<rect x="501" y="42.5" width="1" height="45.2" fill="#ac0000"/>
<rect x="502" y="44.7" width="1" height="43.0" fill="#b50000"/>
<rect x="503" y="45.8" width="1" height="41.9" fill="#b50000"/>
<rect x="504" y="47.1" width="1" height="40.6" fill="#aa0000"/>
<rect x="505" y="46.9" width="1" height="40.8" fill="#b60000"/>
<rect x="506" y="48.8" width="1" height="38.9" fill="#b30000"/>
<rect x="507" y="50.4" width="1" height="37.3" fill="#b30000"/>
<rect x="508" y="51.0" width="1" height="36.7" fill="#b10000"/>
<rect x="509" y="52.7" width="1" height="35.0" fill="#b60000"/>
<rect x="510" y="53.9" width="1" height="33.8" fill="#b70000"/>
<rect x="511" y="54.7" width="1" height="33.0" fill="#af0000"/>
<rect x="512" y="56.2" width="1" height="31.5" fill="#b70000"/>
<rect x="513" y="57.8" width="1" height="29.9" fill="#b30000"/>
<rect x="514" y="58.2" width="1" height="29.5" fill="#ae0000"/>
<rect x="515" y="59.8" width="1" height="27.9" fill="#ad0000"/>
<rect x="516" y="60.5" width="1" height="27.2" fill="#b10000"/>
<rect x="517" y="62.0" width="1" height="25.7" fill="#b00000"/>
<rect x="518" y="62.5" width="1" height="25.2" fill="#b10000"/>
<rect x="519" y="63.6" width="1" height="24.1" fill="#b00000"/>
<rect x="520" y="65.5" width="1" height="22.2" fill="#af0000"/>
<rect x="521" y="65.6" width="1" height="22.1" fill="#b50000"/>
<rect x="522" y="67.1" width="1" height="20.6" fill="#b00000"/>
<rect x="523" y="67.2" width="1" height="20.5" fill="#a90000"/>
<rect x="524" y="69.0" width="1" height="18.7" fill="#aa0000"/>
<rect x="525" y="69.2" width="1" height="18.5" fill="#b10000"/>
<rect x="526" y="70.6" width="1" height="17.1" fill="#b30000"/>
<rect x="527" y="70.8" width="1" height="16.9" fill="#ac0000"/>
<rect x="528" y="71.5" width="1" height="16.2" fill="#aa0000"/>
<rect x="529" y="72.7" width="1" height="15.0" fill="#aa0000"/>
<rect x="530" y="73.7" width="1" height="14.0" fill="#b20000"/>
<rect x="531" y="74.3" width="1" height="13.4" fill="#b30000"/>
<rect x="532" y="75.8" width="1" height="11.9" fill="#a90000"/>
<rect x="533" y="76.6" width="1" height="11.1" fill="#b10000"/>
<rect x="534" y="77.2" width="1" height="10.5" fill="#a60000"/>
<rect x="535" y="78.0" width="1" height="9.7" fill="#b10000"/>
<rect x="536" y="78.1" width="1" height="9.6" fill="#af0000"/>
<rect x="537" y="78.6" width="1" height="9.1" fill="#a80000"/>
<rect x="538" y="79.1" width="1" height="8.6" fill="#a40000"/>
<rect x="539" y="79.8" width="1" height="7.9" fill="#a50000"/>
<rect x="540" y="80.6" width="1" height="7.1" fill="#a50000"/>
<rect x="541" y="80.8" width="1" height="6.9" fill="#a60000"/>
<rect x="542" y="81.5" width="1" height="6.2" fill="#a50000"/>
<rect x="543" y="81.4" width="1" height="6.3" fill="#ad0000"/>
<rect x="544" y="82.2" width="1" height="5.5" fill="#a60000"/>
<rect x="545" y="82.3" width="1" height="5.4" fill="#aa0000"/>
<rect x="546" y="83.1" width="1" height="4.6" fill="#a90000"/>
<rect x="547" y="83.2" width="1" height="4.5" fill="#a20000"/>
<rect x="548" y="83.8" width="1" height="3.9" fill="#a70000"/>
<rect x="549" y="84.2" width="1" height="3.5" fill="#a70000"/>
<rect x="550" y="84.5" width="1" height="3.2" fill="#a90000"/>
<rect x="551" y="84.7" width="1" height="3.0" fill="#9e0000"/>
<rect x="552" y="85.1" width="1" height="2.6" fill="#a00000"/>
<rect x="553" y="85.5" width="1" height="2.2" fill="#a70000"/>
</g>
<line x1="475.5" y1="87.8" x2="485" y2="87.8" stroke="#888" stroke-width="0.8"/>
<path d="M477.00,87.70 C477.67,87.65 479.92,87.58 481.00,87.40 C482.08,87.22 482.70,87.00 483.50,86.60 C484.30,86.20 485.08,85.93 485.80,85.00 C486.52,84.07 487.27,82.50 487.80,81.00 C488.33,79.50 488.60,78.02 489.00,76.00 C489.40,73.98 489.80,71.57 490.20,68.90 C490.60,66.23 490.98,62.83 491.40,60.00 C491.82,57.17 492.28,54.15 492.70,51.90 C493.12,49.65 493.50,47.95 493.90,46.50 C494.30,45.05 494.70,44.08 495.10,43.20 C495.50,42.32 495.87,41.68 496.30,41.20 C496.73,40.72 497.20,40.30 497.70,40.30 C498.20,40.30 498.72,40.68 499.30,41.20 C499.88,41.72 500.08,42.02 501.20,43.40 C502.32,44.78 504.18,47.27 506.00,49.50 C507.82,51.73 510.35,54.72 512.10,56.80 C513.85,58.88 515.07,60.38 516.50,62.00 C517.93,63.62 519.20,65.00 520.70,66.50 C522.20,68.00 523.88,69.58 525.50,71.00 C527.12,72.42 528.82,73.83 530.40,75.00 C531.98,76.17 533.38,77.07 535.00,78.00 C536.62,78.93 538.43,79.80 540.10,80.60 C541.77,81.40 543.37,82.12 545.00,82.80 C546.63,83.48 548.40,84.17 549.90,84.70 C551.40,85.23 553.32,85.78 554.00,86.00" fill="none" stroke="#000" stroke-width="0.9"/>
<line x1="324.4" y1="19.5" x2="324.4" y2="90" stroke="#222" stroke-width="0.8" stroke-dasharray="0.8,1.3"/>
<line x1="326.5" y1="18" x2="326.5" y2="90" stroke="#000" stroke-width="1.0" stroke-dasharray="3.4,1.4"/>
<line x1="418.5" y1="19.5" x2="418.5" y2="90" stroke="#222" stroke-width="0.8" stroke-dasharray="0.8,1.3"/>
<line x1="421.0" y1="18" x2="421.0" y2="90" stroke="#000" stroke-width="1.0" stroke-dasharray="3.4,1.4"/>
<line x1="508.3" y1="19.5" x2="508.3" y2="90" stroke="#999" stroke-width="0.8" stroke-dasharray="0.8,1.3"/>
<line x1="512.5" y1="18" x2="512.5" y2="90" stroke="#000" stroke-width="1.0" stroke-dasharray="3.4,1.4"/>
<path d="M300.00,95 V90.4 H360.90 V95 M320.30,90.4 V95 M340.60,90.4 V95" fill="none" stroke="#222" stroke-width="0.85"/>
<text x="300.0" y="106.6" font-size="7.9" text-anchor="middle" font-weight="normal" font-style="normal" fill="#000">20</text>
<text x="320.3" y="106.6" font-size="7.9" text-anchor="middle" font-weight="normal" font-style="normal" fill="#000">50</text>
<text x="340.6" y="106.6" font-size="7.9" text-anchor="middle" font-weight="normal" font-style="normal" fill="#000">80</text>
<text x="360.9" y="106.6" font-size="7.9" text-anchor="middle" font-weight="normal" font-style="normal" fill="#000">110</text>
<path d="M388.30,95 V90.4 H453.70 V95 M410.10,90.4 V95 M431.90,90.4 V95" fill="none" stroke="#222" stroke-width="0.85"/>
<text x="388.3" y="106.6" font-size="7.9" text-anchor="middle" font-weight="normal" font-style="normal" fill="#000">20</text>
<text x="410.1" y="106.6" font-size="7.9" text-anchor="middle" font-weight="normal" font-style="normal" fill="#000">50</text>
<text x="431.9" y="106.6" font-size="7.9" text-anchor="middle" font-weight="normal" font-style="normal" fill="#000">80</text>
<text x="453.7" y="106.6" font-size="7.9" text-anchor="middle" font-weight="normal" font-style="normal" fill="#000">110</text>
<path d="M481.70,95 V90.4 H543.65 V95 M502.35,90.4 V95 M523.00,90.4 V95" fill="none" stroke="#222" stroke-width="0.85"/>
<text x="481.7" y="106.6" font-size="7.9" text-anchor="middle" font-weight="normal" font-style="normal" fill="#000">20</text>
<text x="502.35" y="106.6" font-size="7.9" text-anchor="middle" font-weight="normal" font-style="normal" fill="#000">50</text>
<text x="523.0" y="106.6" font-size="7.9" text-anchor="middle" font-weight="normal" font-style="normal" fill="#000">80</text>
<text x="543.65" y="106.6" font-size="7.9" text-anchor="middle" font-weight="normal" font-style="normal" fill="#000">110</text>
<path d="M289.3,25.4 H293.9 V87.8 H289.3 M289.3,56.5 H293.9" fill="none" stroke="#222" stroke-width="0.85"/>
<text x="283.2" y="25.6" font-size="7.9" text-anchor="middle" font-weight="normal" font-style="normal" fill="#000" transform="rotate(-90 283.2 25.6)">0.03</text>
<text x="283.2" y="56.6" font-size="7.9" text-anchor="middle" font-weight="normal" font-style="normal" fill="#000" transform="rotate(-90 283.2 56.6)">0.015</text>
<text x="283.2" y="87.7" font-size="7.9" text-anchor="middle" font-weight="normal" font-style="normal" fill="#000" transform="rotate(-90 283.2 87.7)">0</text>
<text x="268.2" y="54.6" font-size="8.4" text-anchor="middle" font-weight="normal" font-style="normal" fill="#000" transform="rotate(-90 268.2 54.6)">Frequency</text>
<text x="422.7" y="117.7" font-size="8.45" text-anchor="middle" font-weight="normal" font-style="normal" fill="#000">Detection year</text>
<text x="304.9" y="29.9" font-size="12" text-anchor="middle" font-weight="bold" font-style="normal" fill="#000">B</text>
<text x="392.8" y="30.1" font-size="12" text-anchor="middle" font-weight="bold" font-style="normal" fill="#000">C</text>
<text x="486.5" y="30.1" font-size="12" text-anchor="middle" font-weight="bold" font-style="normal" fill="#000">D</text>
<linearGradient id="jetg" x1="0" y1="1" x2="0" y2="0"><stop offset="0" stop-color="#00007f"/><stop offset="0.125" stop-color="#0000ff"/><stop offset="0.375" stop-color="#00ffff"/><stop offset="0.625" stop-color="#ffff00"/><stop offset="0.875" stop-color="#ff0000"/><stop offset="1" stop-color="#7f0000"/></linearGradient>
<rect x="570.9" y="32" width="15.5" height="136.7" fill="url(#jetg)"/>
<line x1="571.1" y1="32" x2="571.1" y2="168.7" stroke="#888" stroke-width="0.7" stroke-opacity="0.7"/>
<line x1="586.1" y1="32" x2="586.1" y2="168.7" stroke="#222" stroke-width="0.9" stroke-opacity="0.7"/>
<line x1="570.9" y1="168.6" x2="586.4" y2="168.6" stroke="#222" stroke-width="0.6" stroke-opacity="0.7"/>
<line x1="586.1" y1="32.2" x2="590.3" y2="32.2" stroke="#000" stroke-width="0.8"/>
<text x="595.2" y="34.7" font-size="6.3" text-anchor="start" font-weight="normal" font-style="normal" fill="#000">100%</text>
<line x1="586.1" y1="100.4" x2="590.3" y2="100.4" stroke="#000" stroke-width="0.8"/>
<text x="595.2" y="102.9" font-size="6.3" text-anchor="start" font-weight="normal" font-style="normal" fill="#000">50%</text>
<line x1="586.1" y1="168.6" x2="590.3" y2="168.6" stroke="#000" stroke-width="0.8"/>
<text x="595.2" y="171.1" font-size="6.3" text-anchor="start" font-weight="normal" font-style="normal" fill="#000">0%</text>
<text x="578.6" y="19.0" font-size="7.8" text-anchor="middle" font-weight="normal" font-style="normal" fill="#000">Resistance</text>
<line x1="293.6" y1="232.40" x2="365.5" y2="232.40" stroke="#222" stroke-width="0.8" stroke-dasharray="0.7,1.35"/>
<line x1="293.6" y1="208.35" x2="365.5" y2="208.35" stroke="#222" stroke-width="0.8" stroke-dasharray="0.7,1.35"/>
<line x1="293.6" y1="184.30" x2="365.5" y2="184.30" stroke="#222" stroke-width="0.8" stroke-dasharray="0.7,1.35"/>
<line x1="293.6" y1="160.25" x2="365.5" y2="160.25" stroke="#222" stroke-width="0.8" stroke-dasharray="0.7,1.35"/>
<line x1="293.6" y1="136.20" x2="365.5" y2="136.20" stroke="#222" stroke-width="0.8" stroke-dasharray="0.7,1.35"/>
<path d="M289.3,136.20 H293.6 V232.40 H289.3 M289.3,208.35 H293.6 M289.3,184.30 H293.6 M289.3,160.25 H293.6" fill="none" stroke="#000" stroke-width="0.8"/>
<path d="M299.4,128 V132.4 H357.6 V128 M318.80,128 V132.4 M338.20,128 V132.4" fill="none" stroke="#000" stroke-width="0.8"/>
<line x1="381.2" y1="232.40" x2="465.5" y2="232.40" stroke="#222" stroke-width="0.8" stroke-dasharray="0.7,1.35"/>
<line x1="381.2" y1="208.35" x2="465.5" y2="208.35" stroke="#222" stroke-width="0.8" stroke-dasharray="0.7,1.35"/>
<line x1="381.2" y1="184.30" x2="465.5" y2="184.30" stroke="#222" stroke-width="0.8" stroke-dasharray="0.7,1.35"/>
<line x1="381.2" y1="160.25" x2="465.5" y2="160.25" stroke="#222" stroke-width="0.8" stroke-dasharray="0.7,1.35"/>
<line x1="381.2" y1="136.20" x2="465.5" y2="136.20" stroke="#222" stroke-width="0.8" stroke-dasharray="0.7,1.35"/>
<path d="M376.9,136.20 H381.2 V232.40 H376.9 M376.9,208.35 H381.2 M376.9,184.30 H381.2 M376.9,160.25 H381.2" fill="none" stroke="#000" stroke-width="0.8"/>
<path d="M388.0,128 V132.4 H454.0 V128 M410.00,128 V132.4 M432.00,128 V132.4" fill="none" stroke="#000" stroke-width="0.8"/>
<line x1="475.3" y1="232.40" x2="553.8" y2="232.40" stroke="#222" stroke-width="0.8" stroke-dasharray="0.7,1.35"/>
<line x1="475.3" y1="208.35" x2="553.8" y2="208.35" stroke="#222" stroke-width="0.8" stroke-dasharray="0.7,1.35"/>
<line x1="475.3" y1="184.30" x2="553.8" y2="184.30" stroke="#222" stroke-width="0.8" stroke-dasharray="0.7,1.35"/>
<line x1="475.3" y1="160.25" x2="553.8" y2="160.25" stroke="#222" stroke-width="0.8" stroke-dasharray="0.7,1.35"/>
<line x1="475.3" y1="136.20" x2="553.8" y2="136.20" stroke="#222" stroke-width="0.8" stroke-dasharray="0.7,1.35"/>
<path d="M471.0,136.20 H475.3 V232.40 H471.0 M471.0,208.35 H475.3 M471.0,184.30 H475.3 M471.0,160.25 H475.3" fill="none" stroke="#000" stroke-width="0.8"/>
<path d="M481.3,128 V132.4 H543.8 V128 M502.13,128 V132.4 M522.97,128 V132.4" fill="none" stroke="#000" stroke-width="0.8"/>
<text x="283.2" y="232.9" font-size="7.9" text-anchor="middle" font-weight="normal" font-style="normal" fill="#000" transform="rotate(-90 283.2 232.9)">1</text>
<text x="283.2" y="208.85" font-size="7.9" text-anchor="middle" font-weight="normal" font-style="normal" fill="#000" transform="rotate(-90 283.2 208.85)">2</text>
<text x="283.2" y="184.8" font-size="7.9" text-anchor="middle" font-weight="normal" font-style="normal" fill="#000" transform="rotate(-90 283.2 184.8)">3</text>
<text x="283.2" y="160.75" font-size="7.9" text-anchor="middle" font-weight="normal" font-style="normal" fill="#000" transform="rotate(-90 283.2 160.75)">4</text>
<text x="283.2" y="136.7" font-size="7.9" text-anchor="middle" font-weight="normal" font-style="normal" fill="#000" transform="rotate(-90 283.2 136.7)">5</text>
<text x="268.2" y="184.8" font-size="8.4" text-anchor="middle" font-weight="normal" font-style="normal" fill="#000" transform="rotate(-90 268.2 184.8)">Mean # of drivers</text>
<g class="bl"><circle cx="304.2" cy="160.2"/><circle cx="304.0" cy="161.3"/><circle cx="304.0" cy="161.2"/><circle cx="304.4" cy="162.2"/><circle cx="304.4" cy="161.1"/><circle cx="304.8" cy="162.6"/><circle cx="305.5" cy="161.5"/><circle cx="305.4" cy="161.9"/><circle cx="305.3" cy="162.0"/><circle cx="306.1" cy="162.1"/><circle cx="306.6" cy="161.2"/><circle cx="306.6" cy="162.0"/><circle cx="307.1" cy="161.5"/><circle cx="307.0" cy="162.9"/><circle cx="306.9" cy="161.3"/><circle cx="307.9" cy="162.3"/><circle cx="307.7" cy="162.8"/><circle cx="308.3" cy="161.9"/><circle cx="308.4" cy="161.8"/><circle cx="308.9" cy="162.7"/><circle cx="308.8" cy="162.0"/><circle cx="309.7" cy="164.0"/><circle cx="309.6" cy="163.1"/><circle cx="309.5" cy="164.3"/><circle cx="310.6" cy="162.3"/><circle cx="310.1" cy="163.3"/><circle cx="310.1" cy="163.3"/><circle cx="311.7" cy="164.4"/><circle cx="311.6" cy="163.3"/><circle cx="311.0" cy="162.9"/><circle cx="311.7" cy="163.9"/><circle cx="312.4" cy="164.9"/><circle cx="311.8" cy="163.1"/><circle cx="312.7" cy="164.2"/><circle cx="313.0" cy="163.5"/><circle cx="313.1" cy="163.6"/><circle cx="313.4" cy="164.5"/><circle cx="313.8" cy="163.2"/><circle cx="313.1" cy="164.3"/><circle cx="314.4" cy="163.4"/><circle cx="314.1" cy="165.7"/><circle cx="314.3" cy="165.0"/><circle cx="315.2" cy="163.9"/><circle cx="315.4" cy="163.9"/><circle cx="314.8" cy="163.1"/><circle cx="315.6" cy="165.5"/><circle cx="316.4" cy="165.3"/><circle cx="316.3" cy="163.6"/><circle cx="316.6" cy="165.1"/><circle cx="317.1" cy="165.6"/><circle cx="316.6" cy="164.6"/><circle cx="317.8" cy="166.6"/><circle cx="317.6" cy="164.2"/><circle cx="317.5" cy="164.3"/><circle cx="318.6" cy="165.4"/><circle cx="318.1" cy="165.8"/><circle cx="318.5" cy="165.3"/><circle cx="319.6" cy="165.5"/><circle cx="319.4" cy="163.9"/><circle cx="318.8" cy="164.0"/><circle cx="319.8" cy="165.5"/><circle cx="320.1" cy="166.2"/><circle cx="320.1" cy="165.9"/><circle cx="320.5" cy="165.3"/><circle cx="320.4" cy="165.7"/><circle cx="320.8" cy="166.6"/><circle cx="321.8" cy="166.0"/><circle cx="321.5" cy="165.2"/><circle cx="322.0" cy="164.8"/><circle cx="322.1" cy="165.5"/><circle cx="322.7" cy="166.1"/><circle cx="322.3" cy="165.2"/><circle cx="323.2" cy="165.8"/><circle cx="323.5" cy="166.6"/><circle cx="322.8" cy="165.9"/><circle cx="323.6" cy="165.7"/><circle cx="324.3" cy="166.1"/><circle cx="323.7" cy="166.5"/><circle cx="324.7" cy="166.2"/><circle cx="325.0" cy="167.5"/><circle cx="324.9" cy="165.7"/><circle cx="325.3" cy="165.7"/><circle cx="325.6" cy="166.8"/><circle cx="325.4" cy="166.5"/><circle cx="326.7" cy="165.2"/><circle cx="326.8" cy="166.2"/><circle cx="326.8" cy="167.1"/><circle cx="327.3" cy="166.0"/><circle cx="327.3" cy="165.5"/><circle cx="327.0" cy="166.8"/><circle cx="328.4" cy="167.7"/><circle cx="328.2" cy="166.6"/><circle cx="327.5" cy="166.6"/><circle cx="328.8" cy="167.9"/><circle cx="328.8" cy="167.3"/><circle cx="328.8" cy="166.7"/><circle cx="329.1" cy="168.0"/><circle cx="329.5" cy="167.0"/><circle cx="329.7" cy="165.5"/><circle cx="330.0" cy="167.5"/><circle cx="330.7" cy="167.3"/><circle cx="330.3" cy="167.3"/><circle cx="330.9" cy="166.5"/><circle cx="331.6" cy="166.8"/><circle cx="331.0" cy="166.5"/><circle cx="331.6" cy="168.2"/><circle cx="332.4" cy="168.7"/><circle cx="332.2" cy="168.4"/><circle cx="333.0" cy="168.2"/><circle cx="333.2" cy="166.4"/><circle cx="333.2" cy="168.6"/><circle cx="333.6" cy="167.2"/><circle cx="333.2" cy="167.4"/><circle cx="333.3" cy="167.6"/><circle cx="334.1" cy="168.9"/><circle cx="334.4" cy="167.7"/><circle cx="334.3" cy="168.1"/><circle cx="335.2" cy="168.4"/><circle cx="335.5" cy="168.2"/><circle cx="335.6" cy="167.6"/><circle cx="336.2" cy="168.5"/><circle cx="336.0" cy="167.5"/><circle cx="336.1" cy="168.0"/><circle cx="336.5" cy="168.1"/><circle cx="337.1" cy="167.6"/><circle cx="336.5" cy="167.5"/><circle cx="337.3" cy="167.9"/><circle cx="337.3" cy="167.6"/><circle cx="337.1" cy="167.9"/><circle cx="338.4" cy="168.1"/><circle cx="338.0" cy="167.6"/><circle cx="338.3" cy="168.2"/><circle cx="339.4" cy="167.8"/><circle cx="339.1" cy="168.2"/><circle cx="338.7" cy="168.0"/><circle cx="339.6" cy="168.7"/><circle cx="340.0" cy="168.1"/><circle cx="339.8" cy="167.7"/><circle cx="340.4" cy="167.6"/><circle cx="340.6" cy="168.3"/><circle cx="341.1" cy="170.3"/><circle cx="341.4" cy="168.5"/><circle cx="341.3" cy="168.9"/><circle cx="341.7" cy="167.5"/><circle cx="342.2" cy="168.0"/><circle cx="342.9" cy="168.3"/><circle cx="342.5" cy="168.7"/><circle cx="342.8" cy="169.0"/><circle cx="342.9" cy="168.8"/><circle cx="343.4" cy="169.0"/><circle cx="344.4" cy="168.6"/><circle cx="344.0" cy="167.3"/><circle cx="344.3" cy="167.7"/><circle cx="344.3" cy="170.1"/><circle cx="344.6" cy="170.6"/><circle cx="344.4" cy="170.3"/></g>
<g class="bl2"><circle cx="343.2" cy="166.1"/><circle cx="339.4" cy="169.5"/><circle cx="344.0" cy="167.4"/><circle cx="356.5" cy="175.3"/><circle cx="352.5" cy="165.9"/><circle cx="354.5" cy="169.0"/><circle cx="356.4" cy="172.2"/><circle cx="345.7" cy="169.8"/><circle cx="353.4" cy="170.2"/><circle cx="342.7" cy="171.1"/><circle cx="352.1" cy="168.1"/><circle cx="351.9" cy="171.8"/><circle cx="347.2" cy="170.6"/><circle cx="351.9" cy="177.9"/><circle cx="346.8" cy="164.1"/><circle cx="351.2" cy="176.7"/><circle cx="342.0" cy="166.2"/><circle cx="350.5" cy="163.5"/><circle cx="355.3" cy="170.7"/><circle cx="355.8" cy="165.9"/><circle cx="344.0" cy="169.6"/><circle cx="338.5" cy="169.4"/><circle cx="357.1" cy="176.5"/><circle cx="348.9" cy="176.4"/><circle cx="338.7" cy="167.6"/><circle cx="342.1" cy="171.9"/><circle cx="340.2" cy="167.6"/><circle cx="349.3" cy="178.1"/><circle cx="341.8" cy="165.3"/><circle cx="341.6" cy="168.2"/><circle cx="345.8" cy="163.8"/><circle cx="349.7" cy="165.0"/><circle cx="348.2" cy="175.1"/><circle cx="340.7" cy="171.7"/><circle cx="354.3" cy="176.4"/><circle cx="337.5" cy="165.3"/><circle cx="341.2" cy="165.8"/><circle cx="338.8" cy="168.9"/><circle cx="341.7" cy="166.3"/><circle cx="349.9" cy="167.5"/><circle cx="353.0" cy="163.6"/><circle cx="344.3" cy="167.9"/><circle cx="346.4" cy="171.1"/><circle cx="354.5" cy="168.3"/><circle cx="354.1" cy="174.8"/><circle cx="348.3" cy="170.5"/><circle cx="352.3" cy="177.0"/><circle cx="344.3" cy="168.8"/><circle cx="338.5" cy="168.3"/><circle cx="352.4" cy="171.2"/><circle cx="350.6" cy="168.1"/><circle cx="341.5" cy="169.7"/><circle cx="357.9" cy="172.6"/><circle cx="346.0" cy="171.4"/><circle cx="341.6" cy="171.1"/><circle cx="356.5" cy="166.1"/><circle cx="355.4" cy="161.7"/><circle cx="349.9" cy="162.6"/><circle cx="348.3" cy="171.2"/><circle cx="356.9" cy="163.1"/><circle cx="356.9" cy="170.1"/><circle cx="353.2" cy="171.4"/><circle cx="357.9" cy="162.8"/><circle cx="343.1" cy="165.5"/><circle cx="340.9" cy="171.6"/><circle cx="352.2" cy="173.3"/><circle cx="347.9" cy="165.4"/><circle cx="337.9" cy="166.9"/><circle cx="342.8" cy="169.2"/><circle cx="344.2" cy="166.9"/><circle cx="360.4" cy="160.2"/><circle cx="352.2" cy="160.2"/><circle cx="348.9" cy="160.2"/><circle cx="352.4" cy="160.2"/><circle cx="354.4" cy="160.2"/><circle cx="348.4" cy="160.2"/><circle cx="349.8" cy="160.2"/><circle cx="360.7" cy="160.2"/><circle cx="359.6" cy="160.2"/><circle cx="364.6" cy="160.2"/><circle cx="364.6" cy="160.2"/><circle cx="362.8" cy="160.2"/><circle cx="353.7" cy="160.2"/><circle cx="349.9" cy="160.2"/><circle cx="352.6" cy="160.2"/><circle cx="355.3" cy="160.2"/><circle cx="357.7" cy="184.3"/><circle cx="357.9" cy="184.3"/><circle cx="356.2" cy="184.3"/><circle cx="360.7" cy="184.3"/><circle cx="355.6" cy="184.3"/><circle cx="357.2" cy="184.3"/><circle cx="361.0" cy="184.3"/><circle cx="304.2" cy="156.2"/><circle cx="304.2" cy="152.3"/><circle cx="303.5" cy="136.2"/></g>
<g class="rl"><circle cx="303.3" cy="195.3"/><circle cx="303.3" cy="194.5"/><circle cx="302.5" cy="194.4"/><circle cx="303.7" cy="194.9"/><circle cx="303.4" cy="195.1"/><circle cx="304.0" cy="195.5"/><circle cx="304.4" cy="194.8"/><circle cx="304.9" cy="196.4"/><circle cx="303.9" cy="196.2"/><circle cx="305.0" cy="196.7"/><circle cx="304.9" cy="195.8"/><circle cx="304.7" cy="196.5"/><circle cx="305.6" cy="197.3"/><circle cx="305.7" cy="195.9"/><circle cx="305.6" cy="196.5"/><circle cx="306.6" cy="197.4"/><circle cx="306.7" cy="196.4"/><circle cx="306.2" cy="198.5"/><circle cx="306.8" cy="197.8"/><circle cx="307.2" cy="199.4"/><circle cx="307.5" cy="198.5"/><circle cx="307.6" cy="198.3"/><circle cx="307.4" cy="199.2"/><circle cx="308.3" cy="199.5"/><circle cx="308.6" cy="199.3"/><circle cx="308.9" cy="200.0"/><circle cx="308.7" cy="199.2"/><circle cx="309.0" cy="198.0"/><circle cx="309.0" cy="199.6"/><circle cx="309.3" cy="200.9"/><circle cx="309.9" cy="199.3"/><circle cx="310.3" cy="198.0"/><circle cx="310.0" cy="198.3"/><circle cx="310.5" cy="198.9"/><circle cx="310.7" cy="200.1"/><circle cx="311.0" cy="197.9"/><circle cx="311.8" cy="198.9"/><circle cx="311.5" cy="198.9"/><circle cx="311.4" cy="199.4"/><circle cx="312.3" cy="198.7"/><circle cx="312.5" cy="197.7"/><circle cx="312.0" cy="198.0"/><circle cx="312.8" cy="197.0"/><circle cx="312.9" cy="200.0"/><circle cx="312.5" cy="198.3"/><circle cx="313.4" cy="199.0"/><circle cx="313.8" cy="199.0"/><circle cx="313.9" cy="198.1"/><circle cx="314.6" cy="199.0"/><circle cx="314.0" cy="197.9"/><circle cx="313.8" cy="198.7"/><circle cx="314.5" cy="196.2"/><circle cx="314.6" cy="198.4"/><circle cx="314.9" cy="198.2"/><circle cx="315.8" cy="197.7"/><circle cx="315.9" cy="199.4"/><circle cx="315.1" cy="198.8"/><circle cx="315.9" cy="196.1"/><circle cx="316.1" cy="198.8"/><circle cx="316.3" cy="198.1"/><circle cx="316.5" cy="197.8"/><circle cx="316.6" cy="195.9"/><circle cx="317.4" cy="196.9"/><circle cx="317.9" cy="195.5"/><circle cx="317.8" cy="197.7"/><circle cx="318.0" cy="197.6"/><circle cx="318.1" cy="197.1"/><circle cx="318.8" cy="196.2"/><circle cx="317.9" cy="196.7"/><circle cx="319.0" cy="197.8"/><circle cx="318.7" cy="199.4"/><circle cx="318.9" cy="195.9"/><circle cx="319.4" cy="197.1"/><circle cx="319.7" cy="197.0"/><circle cx="320.2" cy="196.9"/><circle cx="320.9" cy="197.0"/><circle cx="321.0" cy="196.6"/><circle cx="320.4" cy="197.3"/><circle cx="321.7" cy="198.4"/><circle cx="321.0" cy="197.0"/><circle cx="320.7" cy="197.9"/><circle cx="322.2" cy="195.9"/><circle cx="322.0" cy="198.0"/><circle cx="321.8" cy="196.8"/><circle cx="322.6" cy="196.6"/><circle cx="322.7" cy="197.4"/><circle cx="323.0" cy="196.6"/><circle cx="323.8" cy="197.3"/><circle cx="323.6" cy="196.5"/><circle cx="323.0" cy="196.3"/><circle cx="323.6" cy="196.1"/><circle cx="324.4" cy="197.1"/><circle cx="323.6" cy="195.3"/><circle cx="325.0" cy="196.9"/><circle cx="325.2" cy="197.5"/><circle cx="325.0" cy="198.0"/><circle cx="325.0" cy="198.0"/><circle cx="325.0" cy="197.4"/><circle cx="325.5" cy="197.6"/><circle cx="326.0" cy="196.4"/><circle cx="325.9" cy="198.0"/><circle cx="326.6" cy="196.4"/><circle cx="327.2" cy="196.3"/><circle cx="326.6" cy="198.6"/><circle cx="327.3" cy="197.4"/><circle cx="327.5" cy="197.0"/><circle cx="327.7" cy="198.1"/><circle cx="327.3" cy="196.4"/><circle cx="328.7" cy="198.5"/><circle cx="328.2" cy="197.3"/><circle cx="328.6" cy="196.5"/><circle cx="328.8" cy="197.8"/><circle cx="329.0" cy="196.9"/><circle cx="329.2" cy="197.4"/><circle cx="329.9" cy="196.4"/><circle cx="329.5" cy="197.3"/><circle cx="330.1" cy="198.3"/><circle cx="330.3" cy="197.6"/><circle cx="330.7" cy="199.6"/><circle cx="330.5" cy="197.4"/><circle cx="330.9" cy="198.6"/><circle cx="330.9" cy="197.3"/><circle cx="330.9" cy="199.2"/><circle cx="331.8" cy="199.8"/><circle cx="331.3" cy="198.3"/><circle cx="331.8" cy="197.6"/><circle cx="332.0" cy="197.9"/><circle cx="332.2" cy="198.2"/><circle cx="331.9" cy="200.4"/><circle cx="333.1" cy="199.2"/><circle cx="333.3" cy="198.0"/><circle cx="333.5" cy="200.2"/><circle cx="333.7" cy="199.2"/><circle cx="334.2" cy="199.4"/><circle cx="333.7" cy="200.8"/><circle cx="334.3" cy="199.0"/><circle cx="334.2" cy="198.8"/><circle cx="334.1" cy="200.3"/><circle cx="334.7" cy="199.6"/><circle cx="335.5" cy="199.5"/><circle cx="334.9" cy="199.7"/><circle cx="335.9" cy="199.0"/><circle cx="335.8" cy="200.7"/><circle cx="335.8" cy="200.7"/><circle cx="336.2" cy="198.8"/><circle cx="336.2" cy="200.3"/><circle cx="336.5" cy="200.1"/><circle cx="336.9" cy="203.0"/><circle cx="336.8" cy="201.3"/><circle cx="337.7" cy="200.3"/><circle cx="338.3" cy="201.1"/><circle cx="338.1" cy="199.9"/><circle cx="338.4" cy="200.4"/><circle cx="338.3" cy="200.2"/><circle cx="338.8" cy="199.0"/><circle cx="338.7" cy="200.6"/><circle cx="339.5" cy="200.7"/><circle cx="339.4" cy="200.9"/><circle cx="339.8" cy="201.9"/><circle cx="340.6" cy="201.7"/><circle cx="340.3" cy="202.1"/><circle cx="339.9" cy="201.7"/><circle cx="341.2" cy="201.2"/><circle cx="340.9" cy="201.1"/><circle cx="340.7" cy="201.6"/><circle cx="341.9" cy="204.0"/><circle cx="341.7" cy="202.1"/><circle cx="341.4" cy="201.9"/><circle cx="342.0" cy="201.9"/><circle cx="341.9" cy="200.9"/><circle cx="342.5" cy="202.1"/><circle cx="343.3" cy="202.9"/><circle cx="342.8" cy="202.6"/><circle cx="342.4" cy="202.2"/><circle cx="343.6" cy="204.1"/><circle cx="343.9" cy="201.8"/><circle cx="343.2" cy="203.6"/><circle cx="344.0" cy="202.5"/><circle cx="344.1" cy="203.1"/><circle cx="344.1" cy="201.7"/><circle cx="344.6" cy="202.9"/><circle cx="345.1" cy="202.1"/><circle cx="344.7" cy="203.2"/><circle cx="345.9" cy="203.7"/><circle cx="345.8" cy="202.5"/><circle cx="345.6" cy="201.8"/><circle cx="346.4" cy="204.1"/><circle cx="346.3" cy="203.9"/><circle cx="346.0" cy="202.8"/><circle cx="347.1" cy="204.9"/><circle cx="347.2" cy="203.4"/><circle cx="347.3" cy="201.5"/><circle cx="347.5" cy="202.3"/><circle cx="347.6" cy="205.6"/><circle cx="348.3" cy="203.8"/><circle cx="348.7" cy="203.3"/><circle cx="348.3" cy="203.5"/><circle cx="348.1" cy="204.5"/><circle cx="349.2" cy="202.9"/><circle cx="349.2" cy="204.2"/><circle cx="349.6" cy="204.4"/><circle cx="350.0" cy="203.2"/><circle cx="350.2" cy="203.4"/><circle cx="350.2" cy="203.2"/></g>
<g class="rl"><circle cx="303.5" cy="203.5"/></g>
<g><circle cx="304.0" cy="186.0" r="2.4" fill="#ff6b00"/><circle cx="304.6" cy="186.4" r="2.4" fill="#ff6800"/><circle cx="305.2" cy="186.0" r="2.4" fill="#ff6500"/><circle cx="305.8" cy="188.5" r="2.4" fill="#ff6200"/><circle cx="306.4" cy="189.8" r="2.4" fill="#ff6100"/><circle cx="307.0" cy="188.7" r="2.4" fill="#ff6100"/><circle cx="307.6" cy="187.9" r="2.4" fill="#ff6100"/><circle cx="308.2" cy="189.4" r="2.4" fill="#ff6100"/><circle cx="308.8" cy="188.6" r="2.4" fill="#ff6300"/><circle cx="309.4" cy="188.4" r="2.4" fill="#ff6800"/><circle cx="310.0" cy="188.8" r="2.4" fill="#ff6d00"/><circle cx="310.6" cy="189.1" r="2.4" fill="#ff7200"/><circle cx="311.2" cy="188.4" r="2.4" fill="#ff7900"/><circle cx="311.8" cy="187.1" r="2.4" fill="#ff8600"/><circle cx="312.4" cy="187.7" r="2.4" fill="#ff9200"/><circle cx="313.0" cy="187.1" r="2.4" fill="#ff9e00"/><circle cx="313.6" cy="186.7" r="2.4" fill="#ffaa00"/><circle cx="314.2" cy="186.8" r="2.4" fill="#ffb700"/><circle cx="314.8" cy="185.8" r="2.4" fill="#ffc600"/><circle cx="315.4" cy="184.9" r="2.4" fill="#ffd400"/><circle cx="316.0" cy="185.1" r="2.4" fill="#ffe200"/><circle cx="316.6" cy="184.3" r="2.4" fill="#fff000"/><circle cx="317.2" cy="183.7" r="2.4" fill="#ffff00"/><circle cx="317.8" cy="183.6" r="2.4" fill="#eeff11"/><circle cx="318.4" cy="183.1" r="2.4" fill="#deff21"/><circle cx="319.0" cy="182.1" r="2.4" fill="#ceff31"/><circle cx="319.6" cy="182.6" r="2.4" fill="#bdff42"/><circle cx="320.2" cy="181.1" r="2.4" fill="#aeff51"/><circle cx="320.8" cy="181.2" r="2.4" fill="#9fff60"/><circle cx="321.4" cy="181.0" r="2.4" fill="#91ff6e"/><circle cx="322.0" cy="181.3" r="2.4" fill="#83ff7c"/><circle cx="322.6" cy="180.6" r="2.4" fill="#75ff8a"/><circle cx="323.2" cy="180.8" r="2.4" fill="#6aff95"/><circle cx="323.8" cy="180.5" r="2.4" fill="#68ff97"/><circle cx="324.4" cy="180.0" r="2.4" fill="#66ff99"/><circle cx="325.0" cy="180.2" r="2.4" fill="#64ff9b"/><circle cx="325.6" cy="179.6" r="2.4" fill="#62ff9d"/><circle cx="326.2" cy="181.4" r="2.4" fill="#65ff9a"/><circle cx="326.8" cy="181.7" r="2.4" fill="#71ff8e"/><circle cx="327.4" cy="181.4" r="2.4" fill="#7dff82"/><circle cx="328.0" cy="181.2" r="2.4" fill="#8aff75"/><circle cx="328.6" cy="181.7" r="2.4" fill="#96ff69"/><circle cx="329.2" cy="182.9" r="2.4" fill="#a4ff5b"/><circle cx="329.8" cy="181.5" r="2.4" fill="#b4ff4b"/><circle cx="330.4" cy="182.2" r="2.4" fill="#c4ff3b"/><circle cx="331.0" cy="182.8" r="2.4" fill="#d5ff2a"/><circle cx="331.6" cy="184.9" r="2.4" fill="#e5ff1a"/><circle cx="332.2" cy="184.6" r="2.4" fill="#f4ff0b"/><circle cx="332.8" cy="185.4" r="2.4" fill="#fffd00"/><circle cx="333.4" cy="184.3" r="2.4" fill="#fff100"/><circle cx="334.0" cy="186.0" r="2.4" fill="#ffe400"/><circle cx="334.6" cy="186.2" r="2.4" fill="#ffd700"/><circle cx="335.2" cy="187.9" r="2.4" fill="#ffc800"/><circle cx="335.8" cy="188.2" r="2.4" fill="#ffba00"/><circle cx="336.4" cy="188.4" r="2.4" fill="#ffac00"/><circle cx="337.0" cy="187.6" r="2.4" fill="#ff9e00"/><circle cx="337.6" cy="189.8" r="2.4" fill="#ff9200"/><circle cx="338.2" cy="191.6" r="2.4" fill="#ff8600"/><circle cx="338.8" cy="191.1" r="2.4" fill="#ff7900"/><circle cx="339.4" cy="192.1" r="2.4" fill="#ff6d00"/><circle cx="340.0" cy="192.8" r="2.4" fill="#ff6100"/><circle cx="340.6" cy="194.0" r="2.4" fill="#ff5500"/><circle cx="341.2" cy="193.5" r="2.4" fill="#ff4800"/><circle cx="341.8" cy="193.5" r="2.4" fill="#ff3c00"/><circle cx="342.4" cy="194.2" r="2.4" fill="#ff2e00"/><circle cx="343.0" cy="195.4" r="2.4" fill="#ff2100"/><circle cx="343.6" cy="195.9" r="2.4" fill="#ff1400"/><circle cx="344.2" cy="196.7" r="2.4" fill="#ff0a00"/><circle cx="344.8" cy="197.0" r="2.4" fill="#ff0100"/><circle cx="345.4" cy="197.5" r="2.4" fill="#f80000"/><circle cx="346.0" cy="198.1" r="2.4" fill="#f00000"/><circle cx="346.6" cy="197.8" r="2.4" fill="#e80000"/><circle cx="347.2" cy="197.3" r="2.4" fill="#e10000"/><circle cx="347.8" cy="198.9" r="2.4" fill="#da0000"/><circle cx="348.4" cy="199.4" r="2.4" fill="#d20000"/><circle cx="349.0" cy="198.6" r="2.4" fill="#ce0000"/><circle cx="349.6" cy="199.6" r="2.4" fill="#c90000"/></g>
<g><circle cx="303.6" cy="188.0" r="2.2" fill="#ff2e00"/><circle cx="304.6" cy="190.3" r="2.2" fill="#ff1a00"/><circle cx="303.9" cy="192.5" r="2.2" fill="#ff0500"/><circle cx="305.2" cy="186.5" r="2.2" fill="#ff4200"/><circle cx="305.8" cy="189.3" r="2.2" fill="#ff2e00"/><circle cx="305.0" cy="193.5" r="2.2" fill="#ff0500"/></g>
<g><circle cx="301.0" cy="172.4" r="2.2" fill="#c7ff38"/><circle cx="302.6" cy="176.2" r="2.2" fill="#ffdb00"/><circle cx="303.5" cy="180.0" r="2.2" fill="#ff9e00"/><circle cx="304.0" cy="183.5" r="2.2" fill="#ff7500"/><circle cx="303.2" cy="186.5" r="2.2" fill="#ff4c00"/></g>
<g><circle cx="346.0" cy="200.1" r="2.1" fill="#dc0000"/><circle cx="346.1" cy="200.9" r="2.1" fill="#d90000"/><circle cx="346.3" cy="197.4" r="2.1" fill="#e10000"/><circle cx="346.4" cy="201.2" r="2.1" fill="#e00000"/><circle cx="346.8" cy="197.2" r="2.1" fill="#df0000"/><circle cx="347.0" cy="200.4" r="2.1" fill="#d50000"/><circle cx="347.5" cy="198.4" r="2.1" fill="#d30000"/><circle cx="347.5" cy="198.0" r="2.1" fill="#d20000"/><circle cx="347.5" cy="197.3" r="2.1" fill="#d80000"/><circle cx="347.7" cy="200.2" r="2.1" fill="#cf0000"/><circle cx="347.7" cy="200.9" r="2.1" fill="#d00000"/><circle cx="348.1" cy="198.8" r="2.1" fill="#c30000"/><circle cx="348.2" cy="196.5" r="2.1" fill="#d30000"/><circle cx="348.4" cy="197.7" r="2.1" fill="#c20000"/><circle cx="348.6" cy="199.0" r="2.1" fill="#c50000"/><circle cx="349.0" cy="202.1" r="2.1" fill="#c40000"/><circle cx="349.5" cy="198.9" r="2.1" fill="#c50000"/><circle cx="349.6" cy="201.5" r="2.1" fill="#b60000"/><circle cx="349.8" cy="199.0" r="2.1" fill="#bc0000"/><circle cx="349.9" cy="196.4" r="2.1" fill="#c20000"/><circle cx="350.0" cy="199.7" r="2.1" fill="#b60000"/><circle cx="350.0" cy="201.4" r="2.1" fill="#b90000"/><circle cx="350.5" cy="196.6" r="2.1" fill="#b60000"/><circle cx="350.5" cy="199.0" r="2.1" fill="#b50000"/><circle cx="351.2" cy="196.6" r="2.1" fill="#a80000"/><circle cx="351.3" cy="200.9" r="2.1" fill="#b70000"/><circle cx="351.4" cy="197.5" r="2.1" fill="#b40000"/><circle cx="351.4" cy="202.8" r="2.1" fill="#a80000"/><circle cx="351.8" cy="195.6" r="2.1" fill="#b30000"/><circle cx="352.0" cy="200.0" r="2.1" fill="#b30000"/><circle cx="352.1" cy="201.7" r="2.1" fill="#aa0000"/><circle cx="352.4" cy="195.1" r="2.1" fill="#ad0000"/><circle cx="352.8" cy="195.2" r="2.1" fill="#a60000"/><circle cx="352.8" cy="203.5" r="2.1" fill="#a80000"/><circle cx="352.9" cy="199.8" r="2.1" fill="#970000"/><circle cx="353.0" cy="198.1" r="2.1" fill="#9c0000"/><circle cx="353.0" cy="199.4" r="2.1" fill="#a40000"/><circle cx="353.7" cy="202.8" r="2.1" fill="#a00000"/><circle cx="353.8" cy="195.3" r="2.1" fill="#9d0000"/><circle cx="353.8" cy="197.8" r="2.1" fill="#9c0000"/><circle cx="354.2" cy="198.4" r="2.1" fill="#9e0000"/><circle cx="354.3" cy="201.9" r="2.1" fill="#960000"/><circle cx="354.3" cy="204.4" r="2.1" fill="#8f0000"/><circle cx="354.4" cy="202.5" r="2.1" fill="#960000"/><circle cx="354.8" cy="199.7" r="2.1" fill="#940000"/><circle cx="354.8" cy="203.6" r="2.1" fill="#860000"/><circle cx="354.9" cy="200.2" r="2.1" fill="#950000"/><circle cx="354.9" cy="194.7" r="2.1" fill="#870000"/><circle cx="355.6" cy="198.4" r="2.1" fill="#8c0000"/><circle cx="355.8" cy="196.8" r="2.1" fill="#7f0000"/><circle cx="356.2" cy="198.1" r="2.1" fill="#850000"/><circle cx="356.6" cy="203.5" r="2.1" fill="#8c0000"/><circle cx="356.8" cy="202.6" r="2.1" fill="#8b0000"/><circle cx="356.8" cy="202.3" r="2.1" fill="#800000"/><circle cx="357.0" cy="194.9" r="2.1" fill="#8c0000"/><circle cx="357.0" cy="204.5" r="2.1" fill="#7f0000"/><circle cx="357.3" cy="203.1" r="2.1" fill="#7f0000"/><circle cx="357.3" cy="196.8" r="2.1" fill="#8c0000"/><circle cx="357.4" cy="196.5" r="2.1" fill="#7f0000"/><circle cx="357.9" cy="202.0" r="2.1" fill="#850000"/><circle cx="357.9" cy="194.2" r="2.1" fill="#860000"/><circle cx="358.5" cy="198.8" r="2.1" fill="#860000"/><circle cx="358.8" cy="202.5" r="2.1" fill="#8a0000"/><circle cx="358.8" cy="201.2" r="2.1" fill="#8d0000"/><circle cx="358.9" cy="196.4" r="2.1" fill="#870000"/><circle cx="358.9" cy="199.3" r="2.1" fill="#860000"/><circle cx="359.0" cy="199.8" r="2.1" fill="#7f0000"/><circle cx="359.4" cy="198.3" r="2.1" fill="#810000"/><circle cx="359.5" cy="199.8" r="2.1" fill="#870000"/><circle cx="359.5" cy="199.5" r="2.1" fill="#810000"/><circle cx="360.1" cy="196.9" r="2.1" fill="#7f0000"/><circle cx="360.1" cy="201.0" r="2.1" fill="#7f0000"/><circle cx="360.4" cy="205.0" r="2.1" fill="#890000"/><circle cx="360.6" cy="200.6" r="2.1" fill="#880000"/><circle cx="360.7" cy="194.0" r="2.1" fill="#7f0000"/><circle cx="361.3" cy="194.4" r="2.1" fill="#8d0000"/><circle cx="361.9" cy="201.7" r="2.1" fill="#880000"/><circle cx="362.1" cy="203.5" r="2.1" fill="#7f0000"/><circle cx="362.3" cy="200.7" r="2.1" fill="#8e0000"/><circle cx="362.9" cy="205.9" r="2.1" fill="#8d0000"/></g>
<g><circle cx="300.6" cy="184.3" r="2.1" fill="#8b0000"/><circle cx="301.6" cy="186.7" r="2.1" fill="#8b0000"/><circle cx="301.4" cy="190.3" r="2.1" fill="#a00000"/><circle cx="302.0" cy="193.9" r="2.1" fill="#b00000"/><circle cx="302.8" cy="196.3" r="2.1" fill="#c00000"/><circle cx="300.5" cy="208.3" r="2.1" fill="#8b0000"/><circle cx="301.8" cy="208.3" r="2.1" fill="#8b0000"/></g>
<g><circle cx="299.3" cy="160.2" r="2.1" fill="#8b0000"/><circle cx="300.4" cy="160.2" r="2.1" fill="#300050"/><circle cx="301.5" cy="160.2" r="2.1" fill="#00007f"/><circle cx="302.5" cy="160.2" r="2.1" fill="#00008f"/><circle cx="303.3" cy="160.2" r="2.1" fill="#0000af"/></g>
<g class="bl"><circle cx="393.2" cy="159.9"/><circle cx="393.2" cy="159.2"/><circle cx="393.9" cy="160.5"/><circle cx="394.3" cy="159.9"/><circle cx="393.8" cy="159.9"/><circle cx="394.6" cy="160.3"/><circle cx="395.3" cy="159.9"/><circle cx="394.6" cy="159.9"/><circle cx="395.1" cy="160.4"/><circle cx="395.2" cy="159.9"/><circle cx="395.4" cy="160.5"/><circle cx="395.8" cy="160.6"/><circle cx="395.9" cy="160.5"/><circle cx="396.4" cy="159.3"/><circle cx="396.1" cy="160.1"/><circle cx="396.7" cy="160.4"/><circle cx="396.8" cy="160.0"/><circle cx="397.0" cy="160.6"/><circle cx="397.5" cy="160.0"/><circle cx="397.7" cy="160.2"/><circle cx="398.0" cy="160.8"/><circle cx="398.4" cy="160.0"/><circle cx="398.7" cy="160.0"/><circle cx="398.4" cy="160.7"/><circle cx="399.4" cy="159.9"/><circle cx="399.0" cy="160.5"/><circle cx="398.6" cy="159.9"/><circle cx="399.8" cy="160.8"/><circle cx="399.8" cy="160.2"/><circle cx="399.8" cy="160.3"/><circle cx="401.0" cy="160.6"/><circle cx="400.1" cy="160.1"/><circle cx="400.8" cy="160.5"/><circle cx="401.0" cy="159.7"/><circle cx="401.5" cy="160.0"/><circle cx="401.5" cy="159.3"/><circle cx="401.5" cy="161.2"/><circle cx="401.8" cy="159.6"/><circle cx="401.9" cy="159.7"/><circle cx="402.8" cy="159.7"/><circle cx="402.8" cy="162.0"/><circle cx="403.0" cy="160.4"/><circle cx="403.7" cy="160.3"/><circle cx="402.9" cy="159.5"/><circle cx="403.1" cy="159.8"/><circle cx="404.2" cy="159.9"/><circle cx="404.2" cy="160.2"/><circle cx="403.5" cy="161.4"/><circle cx="404.4" cy="160.3"/><circle cx="404.9" cy="160.3"/><circle cx="405.0" cy="160.9"/><circle cx="405.6" cy="159.9"/><circle cx="405.4" cy="160.2"/><circle cx="405.9" cy="160.1"/><circle cx="405.7" cy="159.6"/><circle cx="406.4" cy="160.8"/><circle cx="406.3" cy="160.1"/><circle cx="406.4" cy="160.4"/><circle cx="407.2" cy="161.1"/><circle cx="406.6" cy="160.2"/><circle cx="407.9" cy="160.0"/><circle cx="407.4" cy="160.7"/><circle cx="407.7" cy="159.9"/><circle cx="408.0" cy="160.7"/><circle cx="408.5" cy="159.5"/><circle cx="408.0" cy="159.3"/><circle cx="409.1" cy="159.8"/><circle cx="409.0" cy="161.3"/><circle cx="408.8" cy="159.6"/><circle cx="409.3" cy="159.9"/><circle cx="409.7" cy="160.0"/><circle cx="409.5" cy="159.6"/><circle cx="410.3" cy="160.5"/><circle cx="410.5" cy="160.8"/><circle cx="410.3" cy="160.6"/><circle cx="411.0" cy="161.2"/><circle cx="410.7" cy="160.2"/><circle cx="411.3" cy="160.5"/><circle cx="411.3" cy="159.4"/><circle cx="411.7" cy="161.0"/><circle cx="411.4" cy="160.0"/><circle cx="412.2" cy="159.8"/><circle cx="412.5" cy="159.8"/><circle cx="411.9" cy="160.1"/><circle cx="413.6" cy="160.0"/><circle cx="413.1" cy="160.6"/><circle cx="413.3" cy="160.4"/><circle cx="414.1" cy="160.3"/><circle cx="413.7" cy="160.3"/><circle cx="413.8" cy="159.4"/><circle cx="414.3" cy="160.0"/><circle cx="414.3" cy="160.7"/><circle cx="414.5" cy="160.7"/><circle cx="415.6" cy="160.7"/><circle cx="414.8" cy="160.3"/><circle cx="415.3" cy="160.6"/><circle cx="415.7" cy="159.8"/><circle cx="415.4" cy="160.0"/><circle cx="415.5" cy="160.2"/><circle cx="417.0" cy="160.6"/><circle cx="416.8" cy="160.4"/><circle cx="416.7" cy="159.5"/><circle cx="417.0" cy="159.9"/><circle cx="417.8" cy="160.0"/><circle cx="417.0" cy="159.9"/><circle cx="418.4" cy="160.0"/><circle cx="417.6" cy="160.8"/><circle cx="417.9" cy="160.3"/><circle cx="419.1" cy="160.4"/><circle cx="419.0" cy="159.6"/><circle cx="418.8" cy="160.6"/><circle cx="419.9" cy="160.3"/><circle cx="419.0" cy="159.8"/><circle cx="419.1" cy="160.2"/><circle cx="420.3" cy="160.5"/><circle cx="420.0" cy="159.7"/><circle cx="420.3" cy="160.8"/><circle cx="421.1" cy="159.9"/><circle cx="420.7" cy="160.2"/><circle cx="420.7" cy="160.7"/><circle cx="421.7" cy="161.1"/><circle cx="421.9" cy="160.4"/><circle cx="421.5" cy="160.7"/><circle cx="422.4" cy="160.1"/><circle cx="422.1" cy="160.7"/><circle cx="422.3" cy="160.1"/><circle cx="422.4" cy="159.3"/><circle cx="423.0" cy="160.6"/><circle cx="423.0" cy="160.2"/><circle cx="423.6" cy="159.3"/><circle cx="423.7" cy="160.5"/><circle cx="424.0" cy="160.0"/><circle cx="424.6" cy="160.4"/><circle cx="424.6" cy="159.4"/><circle cx="424.2" cy="160.3"/><circle cx="424.7" cy="160.4"/><circle cx="425.3" cy="160.5"/><circle cx="425.1" cy="160.0"/><circle cx="425.5" cy="160.7"/><circle cx="426.1" cy="160.5"/><circle cx="425.8" cy="160.6"/><circle cx="426.3" cy="160.6"/><circle cx="426.2" cy="160.7"/><circle cx="426.9" cy="159.6"/><circle cx="426.9" cy="160.8"/><circle cx="426.8" cy="160.4"/><circle cx="427.3" cy="161.1"/><circle cx="427.5" cy="160.4"/><circle cx="427.7" cy="160.8"/><circle cx="427.9" cy="160.9"/><circle cx="428.8" cy="160.0"/><circle cx="429.0" cy="159.8"/><circle cx="428.9" cy="159.8"/><circle cx="429.4" cy="161.1"/><circle cx="428.7" cy="160.7"/><circle cx="429.5" cy="160.7"/><circle cx="429.7" cy="160.7"/><circle cx="430.0" cy="159.8"/><circle cx="429.7" cy="159.8"/><circle cx="431.0" cy="160.1"/><circle cx="430.9" cy="160.8"/><circle cx="430.5" cy="160.5"/><circle cx="431.7" cy="160.3"/><circle cx="431.6" cy="160.2"/><circle cx="431.6" cy="160.5"/><circle cx="431.5" cy="160.8"/><circle cx="431.6" cy="160.5"/><circle cx="431.9" cy="159.7"/><circle cx="432.5" cy="160.7"/><circle cx="433.0" cy="160.9"/><circle cx="432.6" cy="159.4"/><circle cx="433.0" cy="160.1"/><circle cx="433.2" cy="160.3"/><circle cx="433.7" cy="159.8"/><circle cx="434.5" cy="159.9"/><circle cx="434.2" cy="160.7"/><circle cx="434.4" cy="159.6"/><circle cx="434.9" cy="160.5"/><circle cx="434.7" cy="160.6"/><circle cx="435.3" cy="160.2"/><circle cx="435.2" cy="160.3"/><circle cx="435.2" cy="160.2"/><circle cx="435.2" cy="160.6"/><circle cx="436.5" cy="159.6"/><circle cx="436.2" cy="159.1"/><circle cx="436.6" cy="160.1"/><circle cx="437.2" cy="160.5"/><circle cx="436.8" cy="160.2"/><circle cx="437.1" cy="160.1"/><circle cx="437.7" cy="160.5"/><circle cx="437.3" cy="159.4"/><circle cx="437.5" cy="159.9"/><circle cx="438.7" cy="160.0"/><circle cx="438.3" cy="160.0"/><circle cx="438.4" cy="160.0"/><circle cx="438.8" cy="160.1"/><circle cx="439.4" cy="160.4"/><circle cx="439.1" cy="160.1"/><circle cx="439.3" cy="160.7"/><circle cx="439.4" cy="160.3"/><circle cx="439.3" cy="160.3"/><circle cx="440.7" cy="159.6"/><circle cx="440.7" cy="160.9"/><circle cx="440.5" cy="159.7"/><circle cx="441.2" cy="160.8"/><circle cx="441.0" cy="160.0"/><circle cx="440.8" cy="160.2"/><circle cx="441.8" cy="159.3"/><circle cx="441.9" cy="159.4"/><circle cx="442.0" cy="160.0"/><circle cx="442.9" cy="160.5"/><circle cx="443.0" cy="160.3"/><circle cx="442.8" cy="160.0"/><circle cx="443.6" cy="160.1"/><circle cx="443.3" cy="160.7"/><circle cx="442.8" cy="160.2"/><circle cx="444.1" cy="159.8"/><circle cx="443.5" cy="160.1"/><circle cx="444.4" cy="160.3"/><circle cx="444.3" cy="159.9"/><circle cx="445.1" cy="161.1"/><circle cx="444.6" cy="160.4"/><circle cx="445.6" cy="160.6"/><circle cx="444.9" cy="159.8"/><circle cx="444.9" cy="160.7"/><circle cx="446.4" cy="160.3"/><circle cx="445.8" cy="160.1"/><circle cx="445.5" cy="160.4"/><circle cx="447.2" cy="159.5"/><circle cx="446.8" cy="159.7"/><circle cx="446.9" cy="161.0"/><circle cx="447.3" cy="160.3"/><circle cx="447.4" cy="160.0"/><circle cx="447.1" cy="160.3"/><circle cx="448.2" cy="160.7"/><circle cx="448.1" cy="160.4"/><circle cx="447.9" cy="160.5"/><circle cx="449.0" cy="160.1"/><circle cx="449.3" cy="159.6"/><circle cx="448.7" cy="159.6"/><circle cx="449.9" cy="160.4"/><circle cx="449.5" cy="160.2"/><circle cx="449.2" cy="161.0"/><circle cx="450.2" cy="160.7"/><circle cx="450.4" cy="160.5"/><circle cx="450.6" cy="160.0"/><circle cx="450.5" cy="161.1"/><circle cx="451.1" cy="161.0"/><circle cx="450.4" cy="161.1"/><circle cx="451.3" cy="159.8"/><circle cx="451.8" cy="160.3"/><circle cx="451.7" cy="160.7"/><circle cx="452.4" cy="159.9"/><circle cx="452.8" cy="161.1"/><circle cx="452.1" cy="160.4"/><circle cx="453.2" cy="160.9"/><circle cx="453.4" cy="160.7"/><circle cx="452.6" cy="159.6"/><circle cx="453.5" cy="160.4"/><circle cx="453.7" cy="160.0"/><circle cx="454.0" cy="160.1"/><circle cx="454.6" cy="160.1"/><circle cx="454.0" cy="160.5"/><circle cx="454.3" cy="161.0"/><circle cx="454.9" cy="160.2"/><circle cx="455.3" cy="160.6"/><circle cx="455.4" cy="160.5"/><circle cx="455.4" cy="160.5"/><circle cx="455.3" cy="160.4"/><circle cx="455.8" cy="160.9"/><circle cx="456.4" cy="160.3"/><circle cx="456.9" cy="160.2"/><circle cx="456.0" cy="160.5"/><circle cx="457.7" cy="160.4"/><circle cx="456.9" cy="160.1"/><circle cx="457.4" cy="160.0"/><circle cx="458.1" cy="159.8"/><circle cx="457.8" cy="160.9"/><circle cx="458.2" cy="161.2"/><circle cx="458.7" cy="160.5"/><circle cx="458.7" cy="160.5"/><circle cx="458.7" cy="160.7"/><circle cx="459.6" cy="160.5"/><circle cx="459.0" cy="160.6"/><circle cx="458.8" cy="161.5"/><circle cx="459.8" cy="160.1"/><circle cx="460.3" cy="160.3"/><circle cx="460.1" cy="159.6"/><circle cx="460.2" cy="160.0"/><circle cx="461.0" cy="160.6"/><circle cx="461.1" cy="159.2"/><circle cx="461.0" cy="160.5"/><circle cx="461.7" cy="160.1"/><circle cx="461.0" cy="160.0"/><circle cx="462.5" cy="160.1"/><circle cx="461.8" cy="160.5"/><circle cx="462.2" cy="159.8"/><circle cx="462.7" cy="159.8"/><circle cx="462.8" cy="160.4"/><circle cx="463.2" cy="160.2"/><circle cx="463.8" cy="160.0"/><circle cx="463.3" cy="159.6"/><circle cx="463.4" cy="160.8"/></g>
<g class="bl2"><circle cx="391.5" cy="136.2"/><circle cx="390.5" cy="136.2"/><circle cx="393.9" cy="136.2"/><circle cx="392.0" cy="136.2"/><circle cx="391.5" cy="136.2"/><circle cx="393.3" cy="148.2"/><circle cx="393.6" cy="150.1"/><circle cx="394.0" cy="152.3"/><circle cx="394.6" cy="154.2"/><circle cx="395.3" cy="156.2"/><circle cx="396.2" cy="157.8"/><circle cx="397.5" cy="158.8"/><circle cx="456.5" cy="162.1"/><circle cx="462.4" cy="163.3"/><circle cx="459.7" cy="156.8"/><circle cx="459.4" cy="158.4"/><circle cx="458.4" cy="162.5"/><circle cx="462.0" cy="153.2"/><circle cx="459.8" cy="161.7"/><circle cx="462.8" cy="162.4"/><circle cx="456.5" cy="156.8"/><circle cx="462.1" cy="157.5"/><circle cx="455.9" cy="152.1"/><circle cx="456.3" cy="160.5"/><circle cx="463.4" cy="154.6"/><circle cx="461.4" cy="164.1"/><circle cx="462.2" cy="159.8"/><circle cx="455.1" cy="154.6"/><circle cx="462.9" cy="164.4"/><circle cx="458.9" cy="153.1"/><circle cx="457.8" cy="161.1"/><circle cx="461.6" cy="159.2"/><circle cx="463.5" cy="153.7"/><circle cx="462.3" cy="155.7"/><circle cx="462.0" cy="172.3"/><circle cx="462.0" cy="169.4"/><circle cx="462.0" cy="166.3"/><circle cx="462.0" cy="149.4"/><circle cx="462.0" cy="147.0"/></g>
<g class="rl"><circle cx="397.7" cy="200.1"/><circle cx="398.0" cy="200.7"/><circle cx="398.1" cy="199.9"/><circle cx="399.1" cy="199.1"/><circle cx="398.6" cy="197.8"/><circle cx="398.7" cy="198.2"/><circle cx="399.6" cy="199.8"/><circle cx="399.2" cy="199.2"/><circle cx="399.7" cy="199.9"/><circle cx="399.9" cy="197.7"/><circle cx="400.5" cy="199.1"/><circle cx="399.7" cy="198.7"/><circle cx="400.4" cy="200.3"/><circle cx="400.8" cy="199.6"/><circle cx="400.5" cy="199.7"/><circle cx="401.9" cy="198.7"/><circle cx="401.1" cy="200.8"/><circle cx="401.6" cy="198.6"/><circle cx="402.0" cy="199.0"/><circle cx="401.8" cy="199.4"/><circle cx="401.7" cy="200.9"/><circle cx="402.7" cy="198.7"/><circle cx="402.7" cy="199.2"/><circle cx="402.4" cy="199.6"/><circle cx="403.8" cy="198.4"/><circle cx="403.2" cy="198.7"/><circle cx="403.7" cy="198.7"/><circle cx="404.1" cy="199.9"/><circle cx="404.4" cy="199.2"/><circle cx="404.0" cy="199.4"/><circle cx="404.9" cy="199.7"/><circle cx="405.2" cy="199.0"/><circle cx="404.8" cy="198.4"/><circle cx="405.4" cy="199.3"/><circle cx="405.3" cy="198.5"/><circle cx="406.1" cy="198.5"/><circle cx="406.3" cy="200.7"/><circle cx="406.9" cy="198.0"/><circle cx="406.7" cy="198.7"/><circle cx="407.1" cy="197.8"/><circle cx="406.9" cy="198.9"/><circle cx="406.8" cy="198.1"/><circle cx="408.0" cy="199.2"/><circle cx="407.8" cy="199.0"/><circle cx="407.9" cy="198.5"/><circle cx="408.8" cy="198.5"/><circle cx="408.5" cy="199.5"/><circle cx="408.8" cy="196.5"/><circle cx="409.1" cy="197.3"/><circle cx="409.1" cy="198.0"/><circle cx="409.1" cy="197.3"/><circle cx="409.7" cy="197.4"/><circle cx="410.2" cy="198.7"/><circle cx="410.2" cy="198.2"/><circle cx="410.5" cy="197.3"/><circle cx="410.2" cy="197.5"/><circle cx="410.5" cy="196.2"/><circle cx="411.5" cy="198.8"/><circle cx="411.0" cy="197.7"/><circle cx="411.2" cy="197.2"/><circle cx="412.1" cy="196.6"/><circle cx="411.9" cy="197.5"/><circle cx="412.2" cy="197.2"/><circle cx="412.8" cy="198.2"/><circle cx="412.5" cy="198.6"/><circle cx="412.3" cy="197.1"/><circle cx="413.4" cy="197.8"/><circle cx="413.1" cy="197.3"/><circle cx="413.7" cy="197.6"/><circle cx="413.9" cy="196.7"/><circle cx="414.1" cy="197.8"/><circle cx="413.9" cy="196.7"/><circle cx="414.5" cy="198.1"/><circle cx="414.4" cy="197.0"/><circle cx="414.9" cy="197.8"/><circle cx="415.9" cy="194.7"/><circle cx="415.1" cy="197.1"/><circle cx="415.1" cy="197.6"/><circle cx="416.6" cy="195.5"/><circle cx="416.3" cy="197.5"/><circle cx="416.7" cy="197.9"/><circle cx="417.1" cy="197.0"/><circle cx="417.3" cy="196.1"/><circle cx="416.6" cy="197.1"/><circle cx="417.6" cy="197.1"/><circle cx="418.0" cy="196.8"/><circle cx="417.9" cy="196.8"/><circle cx="418.5" cy="197.2"/><circle cx="418.0" cy="196.1"/><circle cx="418.7" cy="196.7"/><circle cx="419.1" cy="196.3"/><circle cx="419.1" cy="195.7"/><circle cx="419.0" cy="196.3"/><circle cx="420.1" cy="196.5"/><circle cx="419.6" cy="197.4"/><circle cx="419.8" cy="195.6"/><circle cx="420.3" cy="196.3"/><circle cx="419.9" cy="195.1"/><circle cx="420.2" cy="195.8"/><circle cx="420.7" cy="196.3"/><circle cx="421.4" cy="196.7"/><circle cx="421.2" cy="195.2"/><circle cx="422.0" cy="196.5"/><circle cx="421.3" cy="194.6"/><circle cx="422.1" cy="196.3"/><circle cx="422.3" cy="194.7"/><circle cx="422.7" cy="196.6"/><circle cx="422.3" cy="195.0"/><circle cx="423.5" cy="195.6"/><circle cx="423.5" cy="196.3"/><circle cx="423.6" cy="195.7"/><circle cx="424.3" cy="195.1"/><circle cx="424.4" cy="194.6"/><circle cx="424.3" cy="194.6"/><circle cx="424.4" cy="195.4"/><circle cx="424.9" cy="196.2"/><circle cx="424.6" cy="196.0"/><circle cx="425.5" cy="195.4"/><circle cx="425.5" cy="195.5"/><circle cx="424.9" cy="195.2"/><circle cx="425.8" cy="194.0"/><circle cx="426.4" cy="195.4"/><circle cx="426.2" cy="194.8"/><circle cx="427.1" cy="194.7"/><circle cx="427.1" cy="193.8"/><circle cx="426.9" cy="195.4"/><circle cx="427.7" cy="194.5"/><circle cx="426.9" cy="195.8"/><circle cx="427.2" cy="194.6"/><circle cx="428.2" cy="195.2"/><circle cx="427.9" cy="195.3"/><circle cx="428.0" cy="194.9"/><circle cx="428.8" cy="196.9"/><circle cx="428.4" cy="196.3"/><circle cx="428.6" cy="193.5"/><circle cx="429.6" cy="194.3"/><circle cx="429.7" cy="195.2"/><circle cx="429.9" cy="195.3"/><circle cx="430.0" cy="195.8"/><circle cx="430.4" cy="195.8"/><circle cx="430.0" cy="195.3"/><circle cx="431.1" cy="194.5"/><circle cx="430.9" cy="194.7"/><circle cx="431.0" cy="194.5"/><circle cx="431.5" cy="196.5"/><circle cx="431.7" cy="196.0"/><circle cx="431.9" cy="195.7"/><circle cx="432.7" cy="193.5"/><circle cx="432.3" cy="194.8"/><circle cx="432.6" cy="195.1"/><circle cx="433.4" cy="195.4"/><circle cx="433.0" cy="196.2"/><circle cx="432.6" cy="198.3"/><circle cx="433.4" cy="197.5"/><circle cx="433.8" cy="194.6"/><circle cx="433.6" cy="196.3"/><circle cx="434.1" cy="195.5"/><circle cx="434.8" cy="197.3"/><circle cx="434.3" cy="195.4"/><circle cx="435.0" cy="196.9"/><circle cx="435.4" cy="195.8"/><circle cx="434.6" cy="195.0"/><circle cx="436.0" cy="195.5"/><circle cx="435.4" cy="195.7"/><circle cx="435.6" cy="195.1"/><circle cx="436.2" cy="194.2"/><circle cx="436.6" cy="196.3"/><circle cx="436.9" cy="195.8"/><circle cx="437.1" cy="196.8"/><circle cx="437.1" cy="195.7"/><circle cx="436.9" cy="194.2"/><circle cx="437.9" cy="196.1"/><circle cx="437.9" cy="196.2"/><circle cx="437.5" cy="196.1"/><circle cx="438.6" cy="195.4"/><circle cx="439.1" cy="195.9"/><circle cx="438.5" cy="194.3"/><circle cx="439.1" cy="195.8"/><circle cx="439.0" cy="194.0"/><circle cx="439.6" cy="197.3"/><circle cx="440.1" cy="197.3"/><circle cx="440.3" cy="196.2"/><circle cx="440.3" cy="196.2"/><circle cx="441.2" cy="194.5"/><circle cx="440.8" cy="195.4"/><circle cx="440.9" cy="196.0"/><circle cx="441.3" cy="195.1"/><circle cx="441.6" cy="196.7"/><circle cx="441.1" cy="197.4"/><circle cx="442.5" cy="196.5"/><circle cx="442.5" cy="196.4"/><circle cx="442.6" cy="195.3"/><circle cx="442.4" cy="196.0"/><circle cx="443.0" cy="196.2"/><circle cx="442.6" cy="196.8"/><circle cx="443.8" cy="198.1"/><circle cx="443.0" cy="197.1"/><circle cx="443.7" cy="198.0"/><circle cx="444.6" cy="196.2"/><circle cx="444.6" cy="197.8"/><circle cx="444.2" cy="196.2"/><circle cx="445.3" cy="196.4"/><circle cx="444.7" cy="198.6"/><circle cx="445.1" cy="196.6"/><circle cx="445.9" cy="198.0"/><circle cx="445.2" cy="196.8"/><circle cx="445.3" cy="196.5"/><circle cx="446.3" cy="196.3"/><circle cx="445.9" cy="197.4"/><circle cx="446.2" cy="197.5"/><circle cx="446.5" cy="197.8"/><circle cx="447.4" cy="197.2"/><circle cx="446.9" cy="196.9"/><circle cx="447.5" cy="198.3"/><circle cx="448.0" cy="197.6"/><circle cx="447.8" cy="196.5"/><circle cx="448.9" cy="197.7"/><circle cx="448.4" cy="197.9"/><circle cx="448.9" cy="197.1"/><circle cx="448.7" cy="198.5"/><circle cx="448.9" cy="197.8"/><circle cx="449.5" cy="198.4"/><circle cx="449.6" cy="198.5"/><circle cx="449.5" cy="199.2"/><circle cx="449.8" cy="198.5"/><circle cx="450.5" cy="198.7"/><circle cx="450.6" cy="197.5"/><circle cx="450.2" cy="198.4"/><circle cx="451.2" cy="199.2"/><circle cx="451.6" cy="198.9"/><circle cx="450.9" cy="199.3"/><circle cx="451.6" cy="198.6"/><circle cx="451.9" cy="199.4"/><circle cx="452.2" cy="198.3"/><circle cx="453.1" cy="198.2"/><circle cx="452.5" cy="198.9"/><circle cx="453.0" cy="198.5"/><circle cx="452.9" cy="198.8"/><circle cx="453.8" cy="199.9"/><circle cx="452.9" cy="199.0"/><circle cx="454.4" cy="197.9"/><circle cx="454.4" cy="199.2"/><circle cx="454.1" cy="199.3"/><circle cx="454.5" cy="198.8"/><circle cx="454.3" cy="199.5"/><circle cx="454.2" cy="199.1"/><circle cx="455.8" cy="198.6"/><circle cx="455.3" cy="200.8"/><circle cx="455.4" cy="201.0"/><circle cx="455.9" cy="200.1"/><circle cx="456.1" cy="201.3"/><circle cx="455.9" cy="200.2"/><circle cx="456.3" cy="201.4"/><circle cx="456.5" cy="199.0"/><circle cx="456.9" cy="199.5"/><circle cx="457.6" cy="199.7"/><circle cx="457.1" cy="201.2"/><circle cx="457.4" cy="199.9"/><circle cx="458.5" cy="200.0"/><circle cx="458.5" cy="201.0"/><circle cx="458.5" cy="201.3"/><circle cx="459.0" cy="201.3"/><circle cx="459.1" cy="200.9"/><circle cx="459.1" cy="201.2"/><circle cx="459.8" cy="202.6"/><circle cx="459.4" cy="200.4"/><circle cx="459.7" cy="201.9"/><circle cx="460.0" cy="201.5"/><circle cx="460.5" cy="200.3"/><circle cx="460.3" cy="200.4"/><circle cx="461.2" cy="199.8"/><circle cx="460.7" cy="203.2"/><circle cx="461.4" cy="202.3"/><circle cx="461.2" cy="201.3"/><circle cx="462.1" cy="201.4"/><circle cx="461.5" cy="200.8"/></g>
<g><circle cx="392.5" cy="189.9" r="2.3" fill="#9e0000"/><circle cx="393.0" cy="193.6" r="2.3" fill="#9e0000"/><circle cx="393.5" cy="194.0" r="2.3" fill="#a00000"/><circle cx="394.0" cy="193.7" r="2.3" fill="#a30000"/><circle cx="394.5" cy="194.6" r="2.3" fill="#a50000"/><circle cx="395.0" cy="193.9" r="2.3" fill="#a80000"/><circle cx="395.5" cy="193.8" r="2.3" fill="#ab0000"/><circle cx="396.0" cy="194.1" r="2.3" fill="#af0000"/><circle cx="396.5" cy="196.1" r="2.3" fill="#b20000"/><circle cx="397.0" cy="195.6" r="2.3" fill="#b60000"/><circle cx="397.5" cy="195.8" r="2.3" fill="#b90000"/><circle cx="398.0" cy="196.2" r="2.3" fill="#bc0000"/><circle cx="398.5" cy="197.3" r="2.3" fill="#c00000"/><circle cx="399.0" cy="198.2" r="2.3" fill="#c30000"/><circle cx="399.5" cy="196.8" r="2.3" fill="#c70000"/><circle cx="400.0" cy="197.3" r="2.3" fill="#ca0000"/><circle cx="400.5" cy="198.4" r="2.3" fill="#ce0000"/><circle cx="401.0" cy="197.8" r="2.3" fill="#d10000"/><circle cx="401.5" cy="199.5" r="2.3" fill="#d30000"/><circle cx="402.0" cy="197.4" r="2.3" fill="#d60000"/><circle cx="402.5" cy="197.0" r="2.3" fill="#d90000"/><circle cx="403.0" cy="196.7" r="2.3" fill="#db0000"/><circle cx="403.5" cy="199.2" r="2.3" fill="#de0000"/><circle cx="404.0" cy="197.5" r="2.3" fill="#e00000"/><circle cx="404.5" cy="197.0" r="2.3" fill="#e30000"/><circle cx="405.0" cy="198.6" r="2.3" fill="#e50000"/><circle cx="405.5" cy="197.0" r="2.3" fill="#e80000"/><circle cx="406.0" cy="197.9" r="2.3" fill="#eb0000"/><circle cx="406.5" cy="197.6" r="2.3" fill="#ed0000"/><circle cx="407.0" cy="197.9" r="2.3" fill="#f00000"/><circle cx="407.5" cy="196.8" r="2.3" fill="#f30000"/><circle cx="408.0" cy="194.8" r="2.3" fill="#f70000"/><circle cx="408.5" cy="195.2" r="2.3" fill="#fb0000"/><circle cx="409.0" cy="194.3" r="2.3" fill="#ff0000"/><circle cx="409.5" cy="193.3" r="2.3" fill="#ff0400"/><circle cx="410.0" cy="195.2" r="2.3" fill="#ff0800"/><circle cx="410.5" cy="192.7" r="2.3" fill="#ff0d00"/><circle cx="411.0" cy="192.1" r="2.3" fill="#ff1100"/><circle cx="411.5" cy="192.3" r="2.3" fill="#ff1500"/><circle cx="412.0" cy="192.7" r="2.3" fill="#ff1a00"/><circle cx="412.5" cy="192.7" r="2.3" fill="#ff2000"/><circle cx="413.0" cy="191.4" r="2.3" fill="#ff2600"/><circle cx="413.5" cy="191.1" r="2.3" fill="#ff2d00"/><circle cx="414.0" cy="190.9" r="2.3" fill="#ff3300"/><circle cx="414.5" cy="189.2" r="2.3" fill="#ff3900"/><circle cx="415.0" cy="188.8" r="2.3" fill="#ff4000"/><circle cx="415.5" cy="189.4" r="2.3" fill="#ff4600"/><circle cx="416.0" cy="189.1" r="2.3" fill="#ff4c00"/><circle cx="416.5" cy="187.9" r="2.3" fill="#ff5200"/><circle cx="417.0" cy="187.1" r="2.3" fill="#ff5700"/><circle cx="417.5" cy="187.0" r="2.3" fill="#ff5c00"/><circle cx="418.0" cy="186.9" r="2.3" fill="#ff6100"/><circle cx="418.5" cy="186.0" r="2.3" fill="#ff6600"/><circle cx="419.0" cy="186.1" r="2.3" fill="#ff6b00"/><circle cx="419.5" cy="186.8" r="2.3" fill="#ff7000"/><circle cx="420.0" cy="185.8" r="2.3" fill="#ff7500"/><circle cx="420.5" cy="185.9" r="2.3" fill="#ff7a00"/><circle cx="421.0" cy="186.7" r="2.3" fill="#ff7e00"/><circle cx="421.5" cy="187.1" r="2.3" fill="#ff8300"/><circle cx="422.0" cy="186.4" r="2.3" fill="#ff8700"/><circle cx="422.5" cy="185.3" r="2.3" fill="#ff8c00"/><circle cx="423.0" cy="185.1" r="2.3" fill="#ff9000"/><circle cx="423.5" cy="186.3" r="2.3" fill="#ff9500"/><circle cx="424.0" cy="185.5" r="2.3" fill="#ff9900"/><circle cx="424.5" cy="186.8" r="2.3" fill="#ff9c00"/><circle cx="425.0" cy="185.3" r="2.3" fill="#ff9e00"/><circle cx="425.5" cy="185.7" r="2.3" fill="#ffa100"/><circle cx="426.0" cy="184.7" r="2.3" fill="#ffa300"/><circle cx="426.5" cy="184.4" r="2.3" fill="#ffa600"/><circle cx="427.0" cy="186.7" r="2.3" fill="#ffa800"/><circle cx="427.5" cy="184.1" r="2.3" fill="#ffab00"/><circle cx="428.0" cy="186.3" r="2.3" fill="#ffad00"/><circle cx="428.5" cy="184.0" r="2.3" fill="#ffae00"/><circle cx="429.0" cy="184.0" r="2.3" fill="#ffaf00"/><circle cx="429.5" cy="186.2" r="2.3" fill="#ffaf00"/><circle cx="430.0" cy="186.0" r="2.3" fill="#ffb000"/><circle cx="430.5" cy="186.4" r="2.3" fill="#ffb100"/><circle cx="431.0" cy="184.2" r="2.3" fill="#ffb100"/><circle cx="431.5" cy="184.6" r="2.3" fill="#ffb200"/><circle cx="432.0" cy="184.0" r="2.3" fill="#ffb300"/><circle cx="432.5" cy="184.5" r="2.3" fill="#ffb100"/><circle cx="433.0" cy="185.8" r="2.3" fill="#ffb000"/><circle cx="433.5" cy="184.7" r="2.3" fill="#ffaf00"/><circle cx="434.0" cy="185.9" r="2.3" fill="#ffad00"/><circle cx="434.5" cy="186.0" r="2.3" fill="#ffac00"/><circle cx="435.0" cy="185.8" r="2.3" fill="#ffab00"/><circle cx="435.5" cy="185.0" r="2.3" fill="#ffaa00"/><circle cx="436.0" cy="186.2" r="2.3" fill="#ffa800"/><circle cx="436.5" cy="185.6" r="2.3" fill="#ffa400"/><circle cx="437.0" cy="185.6" r="2.3" fill="#ffa100"/><circle cx="437.5" cy="185.1" r="2.3" fill="#ff9d00"/><circle cx="438.0" cy="186.1" r="2.3" fill="#ff9900"/><circle cx="438.5" cy="186.4" r="2.3" fill="#ff9500"/><circle cx="439.0" cy="186.1" r="2.3" fill="#ff9100"/><circle cx="439.5" cy="186.5" r="2.3" fill="#ff8e00"/><circle cx="440.0" cy="185.8" r="2.3" fill="#ff8a00"/><circle cx="440.5" cy="187.8" r="2.3" fill="#ff8600"/><circle cx="441.0" cy="187.8" r="2.3" fill="#ff8200"/><circle cx="441.5" cy="188.3" r="2.3" fill="#ff7e00"/><circle cx="442.0" cy="187.4" r="2.3" fill="#ff7a00"/><circle cx="442.5" cy="186.4" r="2.3" fill="#ff7700"/><circle cx="443.0" cy="187.3" r="2.3" fill="#ff7300"/><circle cx="443.5" cy="187.3" r="2.3" fill="#ff6f00"/><circle cx="444.0" cy="186.7" r="2.3" fill="#ff6b00"/><circle cx="444.5" cy="187.2" r="2.3" fill="#ff6700"/><circle cx="445.0" cy="188.9" r="2.3" fill="#ff6300"/><circle cx="445.5" cy="189.3" r="2.3" fill="#ff6000"/><circle cx="446.0" cy="188.6" r="2.3" fill="#ff5c00"/><circle cx="446.5" cy="189.7" r="2.3" fill="#ff5800"/><circle cx="447.0" cy="188.9" r="2.3" fill="#ff5400"/><circle cx="447.5" cy="190.6" r="2.3" fill="#ff5000"/><circle cx="448.0" cy="189.9" r="2.3" fill="#ff4c00"/><circle cx="448.5" cy="189.2" r="2.3" fill="#ff4700"/><circle cx="449.0" cy="190.8" r="2.3" fill="#ff4200"/><circle cx="449.5" cy="191.3" r="2.3" fill="#ff3d00"/><circle cx="450.0" cy="189.8" r="2.3" fill="#ff3800"/><circle cx="450.5" cy="191.7" r="2.3" fill="#ff3300"/><circle cx="451.0" cy="189.9" r="2.3" fill="#ff2e00"/><circle cx="451.5" cy="190.9" r="2.3" fill="#ff2900"/><circle cx="452.0" cy="190.4" r="2.3" fill="#ff2400"/><circle cx="452.5" cy="191.7" r="2.3" fill="#ff2000"/><circle cx="453.0" cy="192.1" r="2.3" fill="#ff1c00"/><circle cx="453.5" cy="193.1" r="2.3" fill="#ff1800"/><circle cx="454.0" cy="194.0" r="2.3" fill="#ff1400"/><circle cx="454.5" cy="191.7" r="2.3" fill="#ff1100"/><circle cx="455.0" cy="194.1" r="2.3" fill="#ff0d00"/><circle cx="455.5" cy="194.8" r="2.3" fill="#ff0900"/><circle cx="456.0" cy="192.7" r="2.3" fill="#ff0500"/><circle cx="456.5" cy="194.2" r="2.3" fill="#ff0000"/><circle cx="457.0" cy="194.5" r="2.3" fill="#fa0000"/><circle cx="457.5" cy="193.9" r="2.3" fill="#f50000"/><circle cx="458.0" cy="194.9" r="2.3" fill="#f00000"/><circle cx="458.5" cy="196.6" r="2.3" fill="#eb0000"/><circle cx="459.0" cy="197.0" r="2.3" fill="#e50000"/><circle cx="459.5" cy="196.2" r="2.3" fill="#e00000"/><circle cx="460.0" cy="196.4" r="2.3" fill="#db0000"/><circle cx="460.5" cy="198.1" r="2.3" fill="#d60000"/><circle cx="461.0" cy="198.3" r="2.3" fill="#d10000"/><circle cx="461.5" cy="197.9" r="2.3" fill="#cc0000"/><circle cx="462.0" cy="199.5" r="2.3" fill="#c70000"/></g>
<g><circle cx="385.5" cy="184.3" r="2.2" fill="#8b0000"/><circle cx="387.0" cy="184.3" r="2.2" fill="#8b0000"/><circle cx="388.5" cy="184.3" r="2.2" fill="#8b0000"/><circle cx="390.0" cy="184.3" r="2.2" fill="#8b0000"/><circle cx="391.2" cy="184.3" r="2.2" fill="#8b0000"/><circle cx="390.3" cy="181.9" r="2.2" fill="#b00000"/><circle cx="391.8" cy="187.9" r="2.2" fill="#8b0000"/><circle cx="392.3" cy="191.5" r="2.2" fill="#8b0000"/><circle cx="391.2" cy="193.4" r="2.2" fill="#8b0000"/><circle cx="392.2" cy="195.1" r="2.2" fill="#8b0000"/><circle cx="393.2" cy="197.0" r="2.2" fill="#8b0000"/><circle cx="391.4" cy="197.5" r="2.2" fill="#900000"/><circle cx="392.5" cy="198.7" r="2.2" fill="#900000"/></g>
<g class="bl"><circle cx="485.5" cy="160.2"/><circle cx="486.3" cy="160.2"/><circle cx="487.1" cy="160.2"/><circle cx="487.9" cy="160.2"/><circle cx="488.7" cy="160.2"/><circle cx="489.5" cy="160.2"/><circle cx="490.3" cy="160.2"/><circle cx="491.1" cy="160.2"/><circle cx="491.4" cy="158.6"/><circle cx="491.9" cy="160.2"/><circle cx="491.9" cy="158.1"/><circle cx="492.7" cy="160.2"/><circle cx="492.6" cy="157.0"/><circle cx="493.1" cy="158.2"/><circle cx="494.0" cy="157.0"/><circle cx="495.0" cy="158.6"/><circle cx="496.2" cy="155.7"/><circle cx="496.7" cy="160.2"/><circle cx="497.0" cy="157.7"/><circle cx="497.5" cy="158.4"/><circle cx="498.3" cy="160.2"/><circle cx="498.5" cy="155.5"/><circle cx="499.1" cy="160.2"/><circle cx="499.1" cy="154.1"/><circle cx="499.6" cy="157.4"/><circle cx="500.2" cy="157.4"/><circle cx="501.2" cy="159.1"/><circle cx="502.6" cy="158.0"/><circle cx="503.3" cy="157.7"/><circle cx="503.9" cy="160.2"/><circle cx="503.6" cy="159.3"/><circle cx="504.6" cy="155.9"/><circle cx="505.5" cy="160.2"/><circle cx="505.1" cy="157.3"/><circle cx="506.7" cy="159.2"/><circle cx="507.0" cy="157.9"/><circle cx="507.9" cy="160.2"/><circle cx="507.8" cy="158.3"/><circle cx="508.7" cy="160.2"/><circle cx="508.6" cy="156.0"/><circle cx="509.3" cy="158.0"/><circle cx="510.5" cy="158.6"/><circle cx="511.5" cy="159.2"/><circle cx="512.2" cy="158.0"/><circle cx="512.7" cy="160.2"/><circle cx="512.8" cy="156.9"/><circle cx="513.4" cy="157.1"/><circle cx="513.9" cy="157.2"/><circle cx="515.1" cy="156.3"/><circle cx="515.9" cy="160.2"/><circle cx="515.7" cy="158.2"/><circle cx="516.5" cy="157.1"/><circle cx="517.4" cy="159.2"/><circle cx="518.3" cy="160.2"/><circle cx="518.5" cy="157.8"/><circle cx="519.1" cy="157.3"/><circle cx="519.7" cy="158.9"/><circle cx="520.7" cy="160.2"/><circle cx="520.4" cy="155.7"/><circle cx="521.5" cy="160.2"/><circle cx="521.4" cy="156.6"/><circle cx="522.3" cy="160.2"/><circle cx="522.4" cy="155.4"/><circle cx="523.1" cy="160.2"/><circle cx="522.9" cy="158.3"/><circle cx="523.9" cy="160.2"/><circle cx="523.8" cy="158.8"/><circle cx="524.7" cy="160.2"/><circle cx="525.1" cy="153.6"/><circle cx="525.5" cy="160.2"/><circle cx="525.0" cy="159.2"/><circle cx="526.3" cy="160.2"/><circle cx="525.9" cy="159.0"/><circle cx="527.1" cy="160.2"/><circle cx="526.9" cy="158.2"/><circle cx="527.9" cy="160.2"/><circle cx="528.0" cy="159.3"/><circle cx="528.7" cy="160.2"/><circle cx="529.0" cy="157.9"/><circle cx="529.5" cy="160.2"/><circle cx="529.3" cy="159.1"/><circle cx="530.3" cy="160.2"/><circle cx="530.1" cy="157.4"/><circle cx="531.1" cy="160.2"/><circle cx="531.4" cy="159.1"/><circle cx="531.9" cy="160.2"/><circle cx="532.2" cy="157.8"/><circle cx="532.7" cy="160.2"/><circle cx="532.7" cy="158.4"/><circle cx="533.5" cy="160.2"/><circle cx="533.8" cy="158.2"/><circle cx="534.3" cy="160.2"/><circle cx="534.1" cy="157.8"/><circle cx="535.1" cy="160.2"/><circle cx="534.8" cy="158.2"/><circle cx="535.9" cy="160.2"/><circle cx="536.0" cy="156.8"/><circle cx="536.7" cy="160.2"/><circle cx="536.8" cy="157.8"/><circle cx="537.5" cy="160.2"/><circle cx="537.8" cy="158.9"/><circle cx="538.3" cy="160.2"/><circle cx="538.5" cy="158.3"/><circle cx="539.1" cy="160.2"/><circle cx="538.6" cy="156.5"/><circle cx="539.9" cy="160.2"/><circle cx="539.9" cy="158.8"/><circle cx="540.7" cy="160.2"/><circle cx="540.8" cy="158.4"/><circle cx="541.5" cy="160.2"/><circle cx="541.2" cy="156.8"/><circle cx="542.3" cy="160.2"/><circle cx="542.0" cy="155.6"/><circle cx="543.1" cy="160.2"/><circle cx="543.1" cy="158.8"/><circle cx="543.9" cy="160.2"/><circle cx="543.7" cy="156.3"/><circle cx="544.7" cy="160.2"/><circle cx="545.2" cy="159.3"/><circle cx="545.5" cy="160.2"/><circle cx="546.0" cy="159.1"/><circle cx="546.3" cy="160.2"/><circle cx="545.9" cy="156.0"/><circle cx="547.1" cy="160.2"/><circle cx="547.0" cy="157.8"/><circle cx="547.9" cy="160.2"/><circle cx="548.3" cy="157.8"/><circle cx="548.7" cy="160.2"/><circle cx="548.3" cy="155.9"/><circle cx="549.5" cy="160.2"/><circle cx="549.1" cy="156.7"/><circle cx="550.3" cy="160.2"/><circle cx="550.1" cy="158.9"/><circle cx="551.1" cy="160.2"/><circle cx="551.1" cy="157.2"/><circle cx="551.9" cy="160.2"/><circle cx="551.5" cy="156.4"/><circle cx="552.7" cy="160.2"/><circle cx="552.6" cy="156.4"/><circle cx="553.5" cy="160.2"/><circle cx="553.3" cy="158.9"/></g>
<g class="bl2"><circle cx="491.2" cy="158.3"/><circle cx="491.2" cy="157.3"/><circle cx="492.1" cy="158.5"/><circle cx="492.1" cy="151.6"/><circle cx="492.4" cy="159.3"/><circle cx="492.4" cy="158.9"/><circle cx="493.6" cy="156.0"/><circle cx="494.0" cy="158.2"/><circle cx="494.5" cy="158.3"/><circle cx="494.6" cy="158.6"/><circle cx="494.6" cy="155.4"/><circle cx="495.3" cy="158.7"/><circle cx="496.4" cy="159.1"/><circle cx="496.3" cy="157.5"/><circle cx="496.9" cy="158.7"/><circle cx="496.4" cy="158.9"/><circle cx="497.3" cy="158.2"/><circle cx="497.2" cy="158.4"/><circle cx="498.2" cy="156.9"/><circle cx="498.6" cy="157.0"/><circle cx="499.2" cy="158.9"/><circle cx="499.1" cy="155.4"/><circle cx="499.9" cy="158.8"/><circle cx="499.7" cy="157.6"/><circle cx="500.9" cy="158.5"/><circle cx="500.6" cy="157.7"/><circle cx="502.0" cy="159.0"/><circle cx="501.0" cy="158.0"/><circle cx="501.9" cy="156.9"/><circle cx="502.7" cy="159.3"/><circle cx="502.9" cy="159.3"/><circle cx="503.2" cy="159.0"/><circle cx="503.5" cy="155.9"/><circle cx="504.4" cy="158.6"/><circle cx="504.8" cy="155.2"/><circle cx="504.4" cy="158.8"/><circle cx="505.5" cy="157.5"/><circle cx="505.4" cy="157.0"/><circle cx="506.6" cy="156.9"/><circle cx="506.0" cy="156.6"/><circle cx="507.4" cy="158.6"/><circle cx="506.9" cy="156.7"/><circle cx="507.1" cy="149.9"/><circle cx="507.8" cy="158.9"/><circle cx="508.2" cy="155.7"/><circle cx="508.6" cy="155.6"/><circle cx="508.5" cy="158.6"/><circle cx="509.2" cy="157.3"/><circle cx="509.0" cy="157.9"/><circle cx="510.2" cy="155.7"/><circle cx="510.1" cy="158.7"/><circle cx="511.5" cy="156.6"/><circle cx="511.1" cy="158.6"/><circle cx="511.1" cy="153.2"/><circle cx="511.6" cy="156.5"/><circle cx="512.1" cy="156.9"/><circle cx="512.9" cy="158.7"/><circle cx="512.5" cy="159.1"/><circle cx="513.3" cy="156.6"/><circle cx="513.4" cy="157.9"/><circle cx="514.3" cy="156.5"/><circle cx="514.5" cy="158.9"/><circle cx="515.6" cy="157.0"/><circle cx="515.2" cy="157.5"/><circle cx="516.3" cy="158.3"/><circle cx="516.1" cy="158.2"/><circle cx="515.9" cy="151.8"/><circle cx="516.3" cy="159.0"/><circle cx="516.6" cy="159.2"/><circle cx="517.4" cy="157.5"/><circle cx="517.1" cy="157.2"/><circle cx="518.7" cy="158.6"/><circle cx="518.1" cy="153.9"/><circle cx="519.0" cy="158.4"/><circle cx="519.5" cy="158.7"/><circle cx="519.5" cy="158.5"/><circle cx="520.3" cy="157.5"/><circle cx="521.1" cy="157.4"/><circle cx="520.8" cy="159.3"/><circle cx="521.0" cy="154.3"/><circle cx="521.8" cy="158.7"/><circle cx="522.4" cy="158.3"/><circle cx="522.5" cy="157.2"/><circle cx="522.7" cy="155.7"/><circle cx="522.9" cy="156.1"/><circle cx="523.1" cy="152.8"/><circle cx="524.2" cy="159.1"/><circle cx="524.3" cy="157.0"/><circle cx="524.8" cy="158.0"/><circle cx="524.4" cy="158.2"/><circle cx="525.1" cy="156.4"/><circle cx="525.6" cy="158.8"/><circle cx="526.8" cy="157.4"/><circle cx="526.4" cy="158.9"/><circle cx="526.8" cy="156.0"/><circle cx="526.9" cy="157.5"/><circle cx="527.8" cy="158.2"/><circle cx="528.1" cy="158.6"/><circle cx="528.9" cy="159.0"/><circle cx="529.2" cy="158.7"/><circle cx="529.6" cy="156.4"/><circle cx="529.4" cy="158.2"/><circle cx="530.5" cy="158.1"/><circle cx="529.9" cy="157.9"/><circle cx="531.4" cy="159.0"/><circle cx="531.0" cy="156.0"/><circle cx="532.2" cy="157.3"/><circle cx="531.8" cy="155.3"/><circle cx="532.8" cy="158.1"/><circle cx="532.3" cy="158.4"/><circle cx="533.8" cy="157.9"/><circle cx="533.1" cy="157.5"/><circle cx="534.2" cy="157.6"/><circle cx="534.3" cy="155.7"/><circle cx="535.1" cy="155.8"/><circle cx="534.8" cy="156.9"/><circle cx="536.2" cy="155.4"/><circle cx="535.7" cy="156.1"/><circle cx="536.5" cy="156.7"/><circle cx="537.1" cy="158.1"/><circle cx="537.2" cy="157.5"/><circle cx="537.9" cy="157.8"/><circle cx="538.5" cy="157.7"/><circle cx="538.5" cy="157.8"/><circle cx="538.3" cy="148.1"/><circle cx="538.7" cy="157.7"/><circle cx="538.9" cy="155.5"/><circle cx="539.6" cy="158.9"/><circle cx="539.8" cy="158.6"/><circle cx="540.3" cy="158.9"/><circle cx="541.1" cy="158.6"/><circle cx="540.7" cy="151.1"/><circle cx="541.6" cy="155.7"/><circle cx="541.6" cy="153.7"/><circle cx="542.5" cy="158.8"/><circle cx="542.5" cy="154.3"/><circle cx="543.6" cy="158.7"/><circle cx="543.4" cy="156.9"/><circle cx="543.8" cy="157.1"/><circle cx="543.8" cy="158.4"/><circle cx="543.9" cy="154.5"/><circle cx="544.2" cy="155.4"/><circle cx="544.5" cy="157.4"/><circle cx="545.3" cy="156.1"/><circle cx="545.8" cy="155.6"/><circle cx="546.5" cy="159.1"/><circle cx="546.3" cy="158.4"/><circle cx="547.2" cy="157.6"/><circle cx="546.8" cy="158.3"/><circle cx="548.0" cy="155.9"/><circle cx="547.6" cy="156.6"/><circle cx="547.9" cy="147.0"/><circle cx="548.6" cy="157.2"/><circle cx="548.2" cy="158.8"/><circle cx="549.8" cy="158.7"/><circle cx="549.3" cy="157.7"/><circle cx="549.5" cy="147.3"/><circle cx="550.5" cy="158.3"/><circle cx="550.1" cy="157.7"/><circle cx="550.9" cy="158.7"/><circle cx="550.7" cy="157.6"/><circle cx="552.1" cy="156.0"/><circle cx="552.0" cy="156.2"/><circle cx="551.9" cy="154.9"/><circle cx="553.0" cy="158.7"/><circle cx="552.2" cy="158.2"/><circle cx="553.8" cy="158.7"/><circle cx="553.3" cy="156.4"/><circle cx="484.5" cy="136.2"/><circle cx="486.0" cy="136.2"/><circle cx="489.5" cy="136.2"/><circle cx="553.3" cy="136.2"/><circle cx="490.5" cy="145.8"/><circle cx="492.5" cy="153.0"/><circle cx="493.5" cy="154.2"/><circle cx="492.0" cy="155.4"/><circle cx="553.0" cy="143.4"/><circle cx="552.5" cy="148.2"/></g>
<g><circle cx="487.2" cy="198.1" r="1.7" fill="#a90000"/><circle cx="487.8" cy="198.2" r="1.7" fill="#b30000"/><circle cx="487.4" cy="198.3" r="1.7" fill="#b40000"/><circle cx="487.1" cy="202.2" r="1.7" fill="#ab0000"/><circle cx="488.1" cy="198.0" r="1.7" fill="#bd0000"/><circle cx="488.2" cy="199.1" r="1.7" fill="#aa0000"/><circle cx="488.6" cy="199.4" r="1.7" fill="#a20000"/><circle cx="488.8" cy="198.4" r="1.7" fill="#aa0000"/><circle cx="489.0" cy="199.9" r="1.7" fill="#b70000"/><circle cx="488.9" cy="199.9" r="1.7" fill="#b00000"/><circle cx="489.0" cy="201.9" r="1.7" fill="#9f0000"/><circle cx="488.9" cy="200.1" r="1.7" fill="#b30000"/><circle cx="490.0" cy="198.7" r="1.7" fill="#a10000"/><circle cx="490.0" cy="198.0" r="1.7" fill="#b30000"/><circle cx="489.9" cy="200.7" r="1.7" fill="#a00000"/><circle cx="489.5" cy="201.2" r="1.7" fill="#a60000"/><circle cx="490.4" cy="202.0" r="1.7" fill="#b30000"/><circle cx="490.7" cy="200.2" r="1.7" fill="#b70000"/><circle cx="490.5" cy="200.9" r="1.7" fill="#b90000"/><circle cx="490.7" cy="201.2" r="1.7" fill="#b90000"/><circle cx="491.9" cy="198.1" r="1.7" fill="#b30000"/><circle cx="491.5" cy="201.8" r="1.7" fill="#be0000"/><circle cx="491.5" cy="197.8" r="1.7" fill="#bd0000"/><circle cx="491.5" cy="198.6" r="1.7" fill="#bf0000"/><circle cx="492.4" cy="201.0" r="1.7" fill="#a80000"/><circle cx="492.6" cy="198.1" r="1.7" fill="#a70000"/><circle cx="491.9" cy="199.2" r="1.7" fill="#ae0000"/><circle cx="492.1" cy="201.3" r="1.7" fill="#b10000"/><circle cx="493.0" cy="200.3" r="1.7" fill="#a30000"/><circle cx="492.8" cy="198.2" r="1.7" fill="#bb0000"/><circle cx="493.3" cy="200.1" r="1.7" fill="#b40000"/><circle cx="493.1" cy="201.6" r="1.7" fill="#b90000"/><circle cx="493.8" cy="201.3" r="1.7" fill="#a60000"/><circle cx="494.1" cy="199.2" r="1.7" fill="#ab0000"/><circle cx="493.6" cy="202.2" r="1.7" fill="#be0000"/><circle cx="494.3" cy="199.9" r="1.7" fill="#a30000"/><circle cx="494.5" cy="200.3" r="1.7" fill="#ad0000"/><circle cx="495.0" cy="200.1" r="1.7" fill="#b20000"/><circle cx="494.6" cy="201.1" r="1.7" fill="#a50000"/><circle cx="495.1" cy="200.1" r="1.7" fill="#bd0000"/><circle cx="495.9" cy="199.9" r="1.7" fill="#aa0000"/><circle cx="495.4" cy="201.8" r="1.7" fill="#aa0000"/><circle cx="495.1" cy="197.6" r="1.7" fill="#bc0000"/><circle cx="495.3" cy="202.2" r="1.7" fill="#bb0000"/><circle cx="496.4" cy="201.7" r="1.7" fill="#be0000"/><circle cx="495.9" cy="202.1" r="1.7" fill="#b20000"/><circle cx="496.0" cy="198.5" r="1.7" fill="#ad0000"/><circle cx="496.3" cy="197.6" r="1.7" fill="#a40000"/><circle cx="496.9" cy="198.3" r="1.7" fill="#ad0000"/><circle cx="496.8" cy="198.3" r="1.7" fill="#c10000"/><circle cx="497.3" cy="197.7" r="1.7" fill="#ae0000"/><circle cx="497.3" cy="198.9" r="1.7" fill="#b60000"/><circle cx="497.5" cy="200.3" r="1.7" fill="#b90000"/><circle cx="498.2" cy="197.8" r="1.7" fill="#a50000"/><circle cx="497.7" cy="197.7" r="1.7" fill="#a70000"/><circle cx="497.4" cy="199.4" r="1.7" fill="#c00000"/><circle cx="498.3" cy="199.9" r="1.7" fill="#ae0000"/><circle cx="498.4" cy="200.5" r="1.7" fill="#b50000"/><circle cx="498.7" cy="201.5" r="1.7" fill="#be0000"/><circle cx="498.2" cy="200.5" r="1.7" fill="#a50000"/><circle cx="499.2" cy="198.3" r="1.7" fill="#b00000"/><circle cx="499.9" cy="198.1" r="1.7" fill="#c20000"/><circle cx="499.3" cy="197.9" r="1.7" fill="#b00000"/><circle cx="499.9" cy="202.0" r="1.7" fill="#aa0000"/><circle cx="500.2" cy="198.1" r="1.7" fill="#b20000"/><circle cx="500.2" cy="199.5" r="1.7" fill="#c40000"/><circle cx="500.7" cy="197.7" r="1.7" fill="#b00000"/><circle cx="500.4" cy="198.4" r="1.7" fill="#b70000"/><circle cx="500.8" cy="198.8" r="1.7" fill="#a70000"/><circle cx="501.5" cy="198.0" r="1.7" fill="#c00000"/><circle cx="500.9" cy="200.7" r="1.7" fill="#b40000"/><circle cx="501.5" cy="198.9" r="1.7" fill="#b30000"/><circle cx="501.8" cy="201.2" r="1.7" fill="#bd0000"/><circle cx="502.4" cy="197.4" r="1.7" fill="#b10000"/><circle cx="502.1" cy="201.0" r="1.7" fill="#c50000"/><circle cx="501.4" cy="202.1" r="1.7" fill="#bf0000"/><circle cx="503.2" cy="199.1" r="1.7" fill="#bf0000"/><circle cx="502.3" cy="202.1" r="1.7" fill="#c50000"/><circle cx="502.3" cy="200.4" r="1.7" fill="#c10000"/><circle cx="502.4" cy="198.8" r="1.7" fill="#c20000"/><circle cx="503.1" cy="198.0" r="1.7" fill="#be0000"/><circle cx="503.6" cy="200.6" r="1.7" fill="#b10000"/><circle cx="503.0" cy="200.7" r="1.7" fill="#ac0000"/><circle cx="503.3" cy="198.7" r="1.7" fill="#c00000"/><circle cx="503.9" cy="199.8" r="1.7" fill="#b90000"/><circle cx="503.8" cy="199.3" r="1.7" fill="#ba0000"/><circle cx="504.2" cy="198.0" r="1.7" fill="#ac0000"/><circle cx="504.2" cy="200.5" r="1.7" fill="#af0000"/><circle cx="505.4" cy="199.3" r="1.7" fill="#b50000"/><circle cx="504.9" cy="198.2" r="1.7" fill="#b60000"/><circle cx="505.5" cy="200.5" r="1.7" fill="#c50000"/><circle cx="505.5" cy="198.9" r="1.7" fill="#af0000"/><circle cx="506.1" cy="197.9" r="1.7" fill="#bd0000"/><circle cx="506.3" cy="198.7" r="1.7" fill="#bb0000"/><circle cx="505.6" cy="201.6" r="1.7" fill="#c10000"/><circle cx="505.7" cy="200.3" r="1.7" fill="#b50000"/><circle cx="507.2" cy="199.0" r="1.7" fill="#b40000"/><circle cx="506.2" cy="198.2" r="1.7" fill="#b80000"/><circle cx="507.0" cy="200.2" r="1.7" fill="#b50000"/><circle cx="506.7" cy="197.7" r="1.7" fill="#bb0000"/><circle cx="507.8" cy="197.2" r="1.7" fill="#b90000"/><circle cx="507.5" cy="198.1" r="1.7" fill="#b90000"/><circle cx="508.0" cy="196.8" r="1.7" fill="#ba0000"/><circle cx="507.7" cy="201.6" r="1.7" fill="#ad0000"/><circle cx="508.4" cy="202.0" r="1.7" fill="#c90000"/><circle cx="508.6" cy="197.6" r="1.7" fill="#b60000"/><circle cx="508.2" cy="200.8" r="1.7" fill="#ba0000"/><circle cx="508.7" cy="198.5" r="1.7" fill="#c80000"/><circle cx="508.8" cy="201.7" r="1.7" fill="#af0000"/><circle cx="509.4" cy="196.7" r="1.7" fill="#bd0000"/><circle cx="508.9" cy="201.8" r="1.7" fill="#c20000"/><circle cx="508.9" cy="199.9" r="1.7" fill="#bf0000"/><circle cx="510.1" cy="197.1" r="1.7" fill="#bf0000"/><circle cx="510.2" cy="200.5" r="1.7" fill="#c20000"/><circle cx="510.2" cy="201.7" r="1.7" fill="#c80000"/><circle cx="510.4" cy="199.4" r="1.7" fill="#be0000"/><circle cx="511.0" cy="196.8" r="1.7" fill="#bf0000"/><circle cx="511.0" cy="201.4" r="1.7" fill="#b00000"/><circle cx="510.6" cy="199.9" r="1.7" fill="#ca0000"/><circle cx="510.3" cy="199.8" r="1.7" fill="#c70000"/><circle cx="511.7" cy="196.1" r="1.7" fill="#c20000"/><circle cx="511.8" cy="198.6" r="1.7" fill="#b80000"/><circle cx="511.8" cy="199.2" r="1.7" fill="#b20000"/><circle cx="511.2" cy="198.0" r="1.7" fill="#bb0000"/><circle cx="512.0" cy="200.8" r="1.7" fill="#af0000"/><circle cx="512.4" cy="199.1" r="1.7" fill="#bc0000"/><circle cx="512.6" cy="198.3" r="1.7" fill="#c50000"/><circle cx="512.7" cy="197.0" r="1.7" fill="#b40000"/><circle cx="513.3" cy="198.0" r="1.7" fill="#c20000"/><circle cx="513.6" cy="197.8" r="1.7" fill="#c70000"/><circle cx="513.4" cy="199.5" r="1.7" fill="#ca0000"/><circle cx="513.5" cy="200.8" r="1.7" fill="#bf0000"/><circle cx="513.5" cy="198.9" r="1.7" fill="#bc0000"/><circle cx="514.2" cy="196.2" r="1.7" fill="#b20000"/><circle cx="514.1" cy="199.7" r="1.7" fill="#b00000"/><circle cx="513.6" cy="200.2" r="1.7" fill="#bb0000"/><circle cx="514.6" cy="198.6" r="1.7" fill="#ca0000"/><circle cx="514.4" cy="202.1" r="1.7" fill="#c00000"/><circle cx="514.4" cy="197.0" r="1.7" fill="#c50000"/><circle cx="514.4" cy="197.6" r="1.7" fill="#c70000"/><circle cx="515.8" cy="198.8" r="1.7" fill="#c90000"/><circle cx="515.7" cy="195.8" r="1.7" fill="#c40000"/><circle cx="515.6" cy="198.7" r="1.7" fill="#b10000"/><circle cx="516.0" cy="201.8" r="1.7" fill="#c20000"/><circle cx="516.6" cy="199.5" r="1.7" fill="#bf0000"/><circle cx="516.4" cy="202.2" r="1.7" fill="#cd0000"/><circle cx="516.7" cy="199.7" r="1.7" fill="#c10000"/><circle cx="516.4" cy="197.3" r="1.7" fill="#b30000"/><circle cx="516.7" cy="198.1" r="1.7" fill="#cf0000"/><circle cx="517.1" cy="196.8" r="1.7" fill="#c00000"/><circle cx="517.0" cy="196.6" r="1.7" fill="#ba0000"/><circle cx="517.5" cy="198.7" r="1.7" fill="#c50000"/><circle cx="518.1" cy="199.0" r="1.7" fill="#cf0000"/><circle cx="517.5" cy="195.8" r="1.7" fill="#bb0000"/><circle cx="517.4" cy="197.2" r="1.7" fill="#b80000"/><circle cx="517.4" cy="195.6" r="1.7" fill="#ca0000"/><circle cx="518.7" cy="197.4" r="1.7" fill="#c10000"/><circle cx="518.5" cy="199.0" r="1.7" fill="#bc0000"/><circle cx="519.2" cy="196.3" r="1.7" fill="#b10000"/><circle cx="519.0" cy="199.0" r="1.7" fill="#c50000"/><circle cx="519.9" cy="195.9" r="1.7" fill="#c70000"/><circle cx="519.8" cy="199.9" r="1.7" fill="#cf0000"/><circle cx="519.5" cy="196.1" r="1.7" fill="#c00000"/><circle cx="519.8" cy="196.5" r="1.7" fill="#b80000"/><circle cx="520.1" cy="195.9" r="1.7" fill="#ce0000"/><circle cx="520.3" cy="201.7" r="1.7" fill="#c50000"/><circle cx="520.7" cy="196.6" r="1.7" fill="#b20000"/><circle cx="520.4" cy="198.7" r="1.7" fill="#cc0000"/><circle cx="521.1" cy="195.9" r="1.7" fill="#c70000"/><circle cx="521.5" cy="200.2" r="1.7" fill="#b90000"/><circle cx="520.8" cy="195.5" r="1.7" fill="#ce0000"/><circle cx="520.7" cy="198.3" r="1.7" fill="#b90000"/><circle cx="522.1" cy="199.4" r="1.7" fill="#bc0000"/><circle cx="521.6" cy="200.0" r="1.7" fill="#c90000"/><circle cx="521.6" cy="202.0" r="1.7" fill="#cb0000"/><circle cx="521.9" cy="198.0" r="1.7" fill="#c80000"/><circle cx="522.8" cy="200.0" r="1.7" fill="#b90000"/><circle cx="522.2" cy="196.7" r="1.7" fill="#b70000"/><circle cx="522.8" cy="197.7" r="1.7" fill="#b40000"/><circle cx="522.3" cy="201.7" r="1.7" fill="#c30000"/><circle cx="523.7" cy="198.4" r="1.7" fill="#c40000"/><circle cx="523.4" cy="199.0" r="1.7" fill="#b80000"/><circle cx="523.1" cy="197.5" r="1.7" fill="#d00000"/><circle cx="523.8" cy="200.4" r="1.7" fill="#ba0000"/><circle cx="524.1" cy="197.7" r="1.7" fill="#c40000"/><circle cx="524.8" cy="198.9" r="1.7" fill="#c40000"/><circle cx="524.3" cy="200.5" r="1.7" fill="#b60000"/><circle cx="524.1" cy="201.3" r="1.7" fill="#cd0000"/><circle cx="525.3" cy="195.6" r="1.7" fill="#c20000"/><circle cx="525.6" cy="200.7" r="1.7" fill="#b90000"/><circle cx="525.4" cy="200.8" r="1.7" fill="#d10000"/><circle cx="525.0" cy="199.2" r="1.7" fill="#c50000"/><circle cx="526.1" cy="200.7" r="1.7" fill="#cc0000"/><circle cx="525.7" cy="201.2" r="1.7" fill="#c70000"/><circle cx="526.0" cy="200.3" r="1.7" fill="#d00000"/><circle cx="526.1" cy="201.8" r="1.7" fill="#ba0000"/><circle cx="526.8" cy="200.7" r="1.7" fill="#d40000"/><circle cx="527.0" cy="202.3" r="1.7" fill="#be0000"/><circle cx="526.7" cy="197.1" r="1.7" fill="#cf0000"/><circle cx="526.9" cy="200.5" r="1.7" fill="#c30000"/><circle cx="528.0" cy="197.8" r="1.7" fill="#d00000"/><circle cx="527.2" cy="199.3" r="1.7" fill="#bc0000"/><circle cx="527.8" cy="199.4" r="1.7" fill="#c30000"/><circle cx="527.4" cy="198.6" r="1.7" fill="#cc0000"/><circle cx="528.7" cy="199.5" r="1.7" fill="#cc0000"/><circle cx="528.4" cy="200.7" r="1.7" fill="#d20000"/><circle cx="528.2" cy="195.9" r="1.7" fill="#ca0000"/><circle cx="528.1" cy="200.2" r="1.7" fill="#c30000"/><circle cx="528.9" cy="198.2" r="1.7" fill="#c70000"/><circle cx="528.6" cy="199.9" r="1.7" fill="#bd0000"/><circle cx="528.8" cy="196.4" r="1.7" fill="#d40000"/><circle cx="529.1" cy="199.1" r="1.7" fill="#c20000"/><circle cx="529.4" cy="201.5" r="1.7" fill="#ca0000"/><circle cx="530.3" cy="198.4" r="1.7" fill="#bc0000"/><circle cx="529.9" cy="194.5" r="1.7" fill="#d40000"/><circle cx="530.3" cy="200.4" r="1.7" fill="#d00000"/><circle cx="530.7" cy="199.1" r="1.7" fill="#b90000"/><circle cx="531.1" cy="196.5" r="1.7" fill="#d00000"/><circle cx="530.4" cy="198.9" r="1.7" fill="#cd0000"/><circle cx="530.4" cy="200.8" r="1.7" fill="#cf0000"/><circle cx="531.3" cy="201.6" r="1.7" fill="#ce0000"/><circle cx="532.0" cy="195.5" r="1.7" fill="#c50000"/><circle cx="532.0" cy="194.7" r="1.7" fill="#d50000"/><circle cx="531.0" cy="199.8" r="1.7" fill="#c70000"/><circle cx="532.8" cy="202.4" r="1.7" fill="#c30000"/><circle cx="532.6" cy="200.4" r="1.7" fill="#c10000"/><circle cx="532.7" cy="201.8" r="1.7" fill="#c40000"/><circle cx="532.3" cy="196.0" r="1.7" fill="#d40000"/><circle cx="533.3" cy="202.5" r="1.7" fill="#d80000"/><circle cx="533.0" cy="199.6" r="1.7" fill="#cb0000"/><circle cx="532.8" cy="194.0" r="1.7" fill="#cc0000"/><circle cx="533.1" cy="199.5" r="1.7" fill="#be0000"/><circle cx="533.6" cy="194.5" r="1.7" fill="#d30000"/><circle cx="534.3" cy="198.9" r="1.7" fill="#c70000"/><circle cx="533.6" cy="195.5" r="1.7" fill="#d20000"/><circle cx="534.2" cy="196.9" r="1.7" fill="#be0000"/><circle cx="535.2" cy="195.6" r="1.7" fill="#d40000"/><circle cx="535.0" cy="201.8" r="1.7" fill="#c10000"/><circle cx="535.1" cy="201.4" r="1.7" fill="#d90000"/><circle cx="535.0" cy="199.6" r="1.7" fill="#c50000"/><circle cx="535.8" cy="194.3" r="1.7" fill="#ca0000"/><circle cx="535.8" cy="194.5" r="1.7" fill="#c30000"/><circle cx="535.4" cy="194.5" r="1.7" fill="#cd0000"/><circle cx="535.9" cy="199.3" r="1.7" fill="#cb0000"/><circle cx="535.8" cy="201.7" r="1.7" fill="#be0000"/><circle cx="536.3" cy="196.1" r="1.7" fill="#cc0000"/><circle cx="536.5" cy="198.0" r="1.7" fill="#d60000"/><circle cx="536.1" cy="197.0" r="1.7" fill="#d60000"/><circle cx="537.5" cy="202.2" r="1.7" fill="#ca0000"/><circle cx="537.5" cy="196.0" r="1.7" fill="#d70000"/><circle cx="536.7" cy="196.3" r="1.7" fill="#cf0000"/><circle cx="536.7" cy="201.6" r="1.7" fill="#c70000"/><circle cx="537.4" cy="200.1" r="1.7" fill="#bf0000"/><circle cx="537.7" cy="194.9" r="1.7" fill="#db0000"/><circle cx="537.6" cy="202.3" r="1.7" fill="#c50000"/><circle cx="538.0" cy="195.6" r="1.7" fill="#c30000"/><circle cx="538.9" cy="201.8" r="1.7" fill="#ce0000"/><circle cx="538.2" cy="195.3" r="1.7" fill="#d10000"/><circle cx="538.7" cy="194.4" r="1.7" fill="#be0000"/><circle cx="538.8" cy="199.1" r="1.7" fill="#c10000"/><circle cx="539.8" cy="200.8" r="1.7" fill="#cf0000"/><circle cx="539.9" cy="193.5" r="1.7" fill="#c10000"/><circle cx="539.5" cy="201.2" r="1.7" fill="#c10000"/><circle cx="539.2" cy="197.1" r="1.7" fill="#d10000"/><circle cx="540.6" cy="199.3" r="1.7" fill="#d20000"/><circle cx="540.6" cy="195.8" r="1.7" fill="#bf0000"/><circle cx="539.9" cy="201.6" r="1.7" fill="#c80000"/><circle cx="540.3" cy="194.2" r="1.7" fill="#cf0000"/><circle cx="540.6" cy="198.2" r="1.7" fill="#d60000"/><circle cx="541.4" cy="195.0" r="1.7" fill="#c30000"/><circle cx="540.7" cy="197.4" r="1.7" fill="#d80000"/><circle cx="541.6" cy="201.4" r="1.7" fill="#ca0000"/><circle cx="542.1" cy="200.9" r="1.7" fill="#cc0000"/><circle cx="541.5" cy="202.4" r="1.7" fill="#d50000"/><circle cx="541.5" cy="198.5" r="1.7" fill="#c90000"/><circle cx="542.3" cy="200.3" r="1.7" fill="#d00000"/><circle cx="542.9" cy="199.8" r="1.7" fill="#d50000"/><circle cx="542.6" cy="194.6" r="1.7" fill="#d40000"/><circle cx="543.0" cy="201.4" r="1.7" fill="#d50000"/><circle cx="542.5" cy="200.6" r="1.7" fill="#da0000"/><circle cx="543.4" cy="194.7" r="1.7" fill="#cb0000"/><circle cx="544.0" cy="199.7" r="1.7" fill="#d60000"/><circle cx="543.2" cy="198.0" r="1.7" fill="#db0000"/><circle cx="543.8" cy="198.7" r="1.7" fill="#de0000"/><circle cx="544.3" cy="198.6" r="1.7" fill="#da0000"/><circle cx="544.1" cy="196.1" r="1.7" fill="#c10000"/><circle cx="544.4" cy="200.3" r="1.7" fill="#df0000"/><circle cx="544.1" cy="200.5" r="1.7" fill="#d30000"/><circle cx="545.0" cy="200.1" r="1.7" fill="#db0000"/><circle cx="545.5" cy="193.2" r="1.7" fill="#ca0000"/><circle cx="545.5" cy="197.1" r="1.7" fill="#c90000"/><circle cx="545.0" cy="196.2" r="1.7" fill="#c60000"/><circle cx="546.1" cy="194.7" r="1.7" fill="#ce0000"/><circle cx="545.7" cy="194.6" r="1.7" fill="#c50000"/><circle cx="545.6" cy="201.3" r="1.7" fill="#e00000"/><circle cx="545.6" cy="201.1" r="1.7" fill="#da0000"/><circle cx="546.4" cy="199.7" r="1.7" fill="#dc0000"/><circle cx="547.2" cy="202.3" r="1.7" fill="#e10000"/><circle cx="547.1" cy="199.0" r="1.7" fill="#ca0000"/><circle cx="546.5" cy="202.9" r="1.7" fill="#e00000"/><circle cx="547.9" cy="202.5" r="1.7" fill="#d40000"/><circle cx="547.3" cy="196.2" r="1.7" fill="#d60000"/><circle cx="547.8" cy="200.8" r="1.7" fill="#d10000"/><circle cx="548.0" cy="197.4" r="1.7" fill="#c40000"/><circle cx="547.8" cy="193.6" r="1.7" fill="#d60000"/><circle cx="548.8" cy="195.5" r="1.7" fill="#da0000"/><circle cx="548.6" cy="201.3" r="1.7" fill="#d20000"/><circle cx="548.5" cy="201.3" r="1.7" fill="#e00000"/><circle cx="549.4" cy="201.1" r="1.7" fill="#cb0000"/><circle cx="549.1" cy="201.0" r="1.7" fill="#c80000"/><circle cx="549.0" cy="200.3" r="1.7" fill="#c70000"/><circle cx="549.6" cy="199.5" r="1.7" fill="#c50000"/><circle cx="549.5" cy="194.4" r="1.7" fill="#d10000"/><circle cx="549.6" cy="198.8" r="1.7" fill="#d90000"/><circle cx="550.1" cy="198.5" r="1.7" fill="#d60000"/><circle cx="550.1" cy="199.3" r="1.7" fill="#e10000"/><circle cx="550.7" cy="193.5" r="1.7" fill="#dc0000"/><circle cx="550.5" cy="193.0" r="1.7" fill="#df0000"/><circle cx="551.2" cy="199.8" r="1.7" fill="#dd0000"/><circle cx="550.9" cy="193.2" r="1.7" fill="#d50000"/><circle cx="551.3" cy="201.8" r="1.7" fill="#e40000"/><circle cx="551.7" cy="194.9" r="1.7" fill="#da0000"/><circle cx="551.5" cy="194.6" r="1.7" fill="#cf0000"/><circle cx="551.7" cy="192.9" r="1.7" fill="#dd0000"/><circle cx="552.8" cy="196.1" r="1.7" fill="#db0000"/><circle cx="552.5" cy="199.8" r="1.7" fill="#d80000"/><circle cx="552.6" cy="194.0" r="1.7" fill="#d20000"/><circle cx="552.6" cy="193.4" r="1.7" fill="#d90000"/><circle cx="552.7" cy="192.4" r="1.7" fill="#e30000"/><circle cx="553.0" cy="202.1" r="1.7" fill="#d50000"/><circle cx="553.4" cy="202.9" r="1.7" fill="#d60000"/><circle cx="553.0" cy="195.6" r="1.7" fill="#ca0000"/></g>
<g><circle cx="481.0" cy="184.3" r="2.2" fill="#960000"/><circle cx="482.4" cy="184.3" r="2.2" fill="#960000"/><circle cx="483.8" cy="184.3" r="2.2" fill="#960000"/><circle cx="485.0" cy="190.0" r="2.2" fill="#8b0000"/><circle cx="486.0" cy="189.3" r="2.2" fill="#8b0000"/><circle cx="485.5" cy="192.5" r="2.2" fill="#8b0000"/><circle cx="483.2" cy="195.0" r="2.2" fill="#8b0000"/><circle cx="483.6" cy="198.0" r="2.2" fill="#8b0000"/><circle cx="484.2" cy="200.3" r="2.2" fill="#8b0000"/><circle cx="486.0" cy="196.0" r="2.2" fill="#8b0000"/><circle cx="486.5" cy="199.5" r="2.2" fill="#8b0000"/><circle cx="487.5" cy="197.0" r="2.2" fill="#8b0000"/><circle cx="488.0" cy="200.0" r="2.2" fill="#8b0000"/><circle cx="485.0" cy="197.0" r="2.2" fill="#8b0000"/><circle cx="484.8" cy="194.0" r="2.2" fill="#8b0000"/></g>
</svg>
</body></html>
